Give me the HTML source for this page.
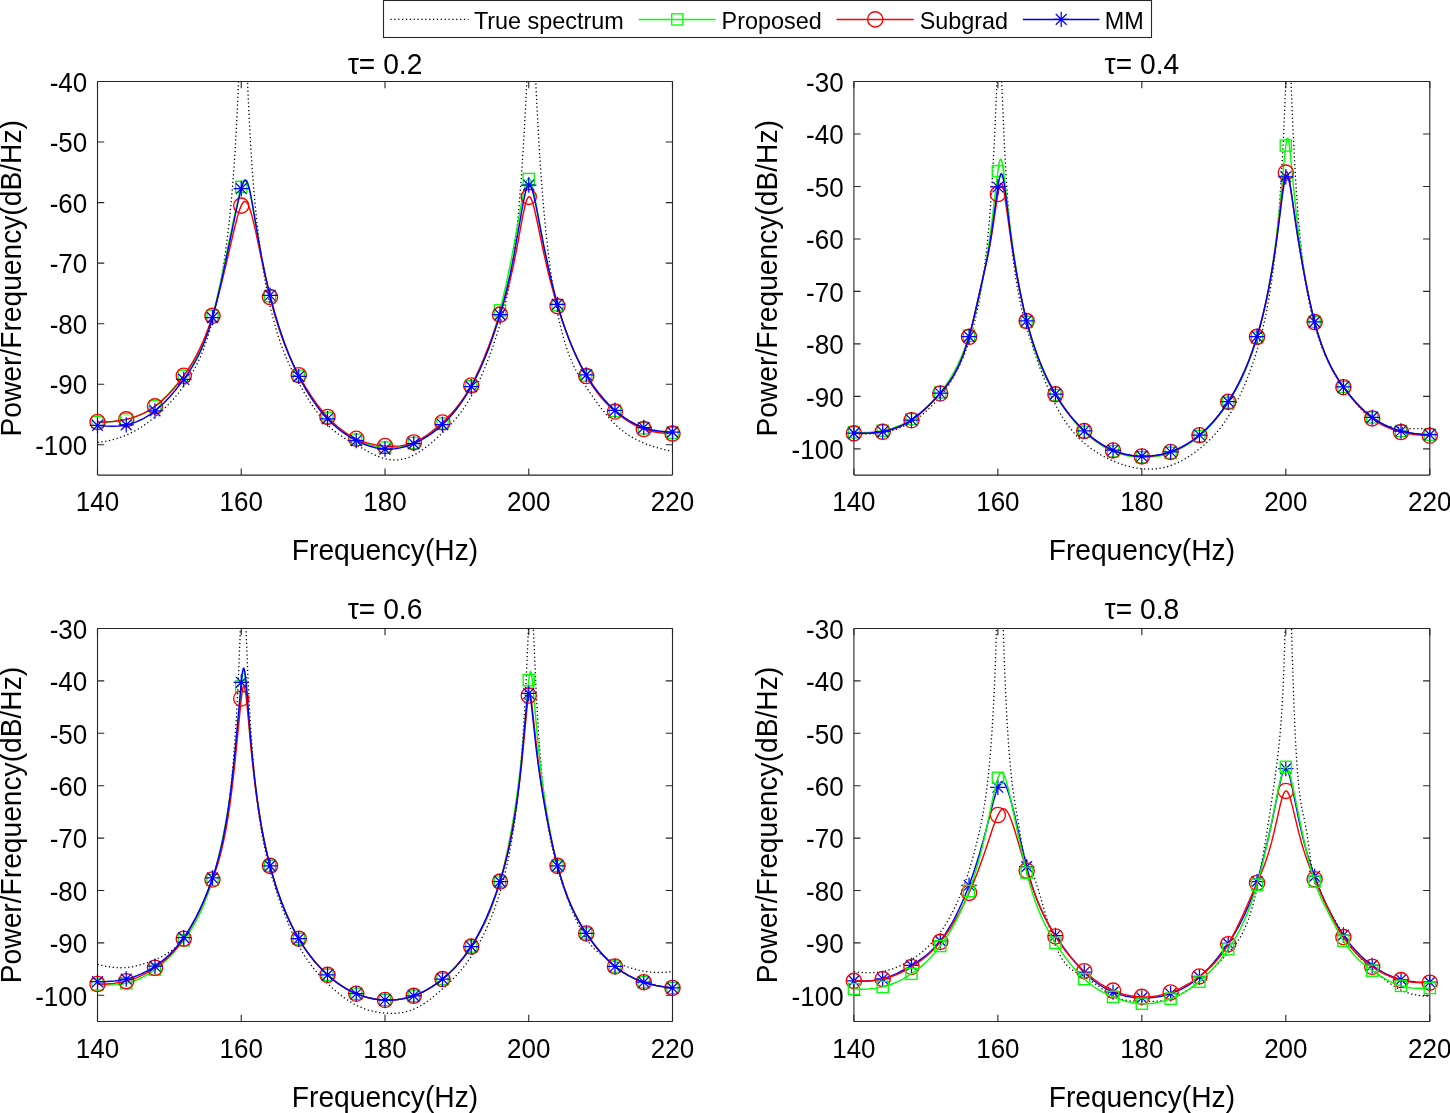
<!DOCTYPE html>
<html><head><meta charset="utf-8"><style>
html,body{margin:0;padding:0;background:#fff;}
svg{display:block;}
text{font-family:'Liberation Sans',sans-serif;fill:#000;}
svg{will-change:transform;}
</style></head><body>
<svg width="1450" height="1113" viewBox="0 0 1450 1113">
<rect width="1450" height="1113" fill="#fff"/>
<clipPath id="clip1"><rect x="97.5" y="81.5" width="575.00" height="393.60"/></clipPath>
<rect x="97.5" y="81.5" width="575.00" height="393.60" fill="#fff" stroke="none"/>
<path d="M97.5,475.1 H672.5 M97.5,81.5 H672.5 M97.5,81.5 V475.1 M672.5,81.5 V475.1" stroke="#262626" stroke-width="1.1" fill="none"/>
<path d="M97.50,475.1 v-6.7 M97.50,81.5 v6.7 M241.25,475.1 v-6.7 M241.25,81.5 v6.7 M385.00,475.1 v-6.7 M385.00,81.5 v6.7 M528.75,475.1 v-6.7 M528.75,81.5 v6.7 M672.50,475.1 v-6.7 M672.50,81.5 v6.7 M97.5,444.82 h6.7 M672.5,444.82 h-6.7 M97.5,384.27 h6.7 M672.5,384.27 h-6.7 M97.5,323.72 h6.7 M672.5,323.72 h-6.7 M97.5,263.16 h6.7 M672.5,263.16 h-6.7 M97.5,202.61 h6.7 M672.5,202.61 h-6.7 M97.5,142.05 h6.7 M672.5,142.05 h-6.7 M97.5,81.50 h6.7 M672.5,81.50 h-6.7" stroke="#262626" stroke-width="1.1" fill="none"/>
<path d="M97.50,442.40 101.81,441.86 106.12,441.16 110.44,440.27 114.75,439.18 119.06,437.86 122.66,436.59 126.25,435.13 129.84,433.49 133.44,431.67 137.75,429.24 141.34,427.02 145.66,424.12 149.97,420.97 153.56,418.15 157.88,414.52 161.47,411.28 168.66,404.20 172.25,400.33 175.84,396.20 182.31,388.04 185.91,383.04 188.78,378.71 191.66,374.04 193.81,370.25 198.12,361.81 200.28,357.07 202.44,351.92 206.03,342.28 209.62,331.06 212.50,320.69 215.77,307.09 218.86,292.25 221.70,276.62 224.32,260.09 226.73,242.71 228.96,224.18 230.76,206.88 232.41,188.34 233.88,169.02 235.28,147.56 236.54,125.21 237.76,100.29 240.53,33.06 245.56,33.06 247.50,81.50 249.01,114.63 250.67,145.16 252.43,172.04 254.40,196.75 256.63,219.58 259.25,241.88 262.20,263.01 264.97,280.01 267.92,295.72 271.01,309.95 274.31,323.03 277.91,335.24 280.06,341.75 282.22,347.76 286.53,358.51 291.56,369.42 295.87,377.80 300.19,385.61 305.22,394.22 310.25,402.28 314.56,408.72 318.88,414.67 323.19,420.07 327.50,424.84 331.09,428.30 334.69,431.34 338.28,434.04 342.59,436.93 348.34,440.38 366.31,450.57 371.34,453.28 375.66,455.37 379.97,457.16 383.56,458.36 387.16,459.23 390.75,459.76 394.34,459.94 397.94,459.79 401.53,459.30 405.84,458.26 409.44,457.03 413.03,455.47 416.62,453.57 420.94,450.89 425.25,447.82 429.56,444.42 433.88,440.74 438.91,436.15 445.38,429.88 450.41,424.69 455.44,419.05 459.75,413.73 464.06,407.84 468.37,401.24 471.97,395.10 475.56,388.31 479.87,379.33 484.19,369.45 488.50,358.65 492.09,348.89 495.69,338.31 499.28,326.77 502.41,315.70 505.10,304.96 507.22,295.37 509.20,285.25 511.07,274.39 512.79,263.00 514.45,250.63 515.99,237.54 517.47,223.46 518.90,208.04 521.56,174.43 523.97,136.91 525.98,98.93 529.04,33.06 533.49,33.06 536.91,106.22 539.46,151.87 540.93,173.90 542.48,194.23 544.17,213.79 545.96,232.16 548.05,250.95 550.28,268.62 552.65,285.12 555.13,300.21 557.68,313.70 560.38,325.96 563.25,337.13 566.12,346.65 569.72,356.69 573.31,365.07 575.47,369.47 577.63,373.51 581.94,380.74 585.53,386.23 591.28,394.62 596.31,401.68 600.62,407.48 604.94,412.98 608.53,417.28 612.12,421.28 615.00,424.23 617.88,426.94 620.75,429.41 626.50,433.74 629.38,435.63 632.97,437.77 639.44,441.10 647.34,444.45 651.66,446.01 655.97,447.40 663.88,449.51 668.19,450.43 672.50,451.18" fill="none" stroke="#000" stroke-width="1.3" stroke-dasharray="1.25 2.62" clip-path="url(#clip1)"/>
<path d="M97.50,422.05 105.41,421.94 113.31,421.41 120.50,420.48 126.97,419.23 133.44,417.49 139.19,415.44 144.94,412.79 149.97,409.89 155.00,406.37 160.03,402.18 165.06,397.39 170.81,391.29 178.00,382.94 185.19,373.95 190.22,367.15 194.53,360.54 197.41,355.53 199.56,351.36 201.72,346.79 203.88,341.76 206.03,336.21 208.19,330.09 211.78,318.42 215.41,304.59 219.44,287.23 223.17,269.84 232.37,225.59 236.65,205.81 239.13,194.94 241.00,187.73 242.54,183.00 243.23,181.45 243.91,180.32 244.56,179.68 245.17,179.49 245.67,179.66 246.21,180.16 247.29,182.16 248.40,185.49 249.59,190.26 252.18,203.67 259.51,246.91 263.89,269.59 266.77,282.75 269.82,295.45 272.88,307.04 276.47,319.44 280.06,330.70 284.38,342.92 288.69,353.92 293.00,363.89 297.31,372.95 302.34,382.53 307.37,391.15 312.41,398.92 318.16,406.87 321.03,410.50 324.62,414.73 330.38,420.83 333.25,423.59 336.84,426.78 339.72,429.14 343.31,431.86 349.78,436.14 353.38,438.19 356.97,440.03 360.56,441.65 364.16,443.08 367.75,444.30 371.34,445.33 374.94,446.17 379.25,446.94 382.84,447.37 387.16,447.66 390.75,447.69 394.34,447.53 397.94,447.18 401.53,446.61 405.13,445.83 408.00,445.04 411.59,443.84 414.47,442.71 418.06,441.06 421.66,439.17 425.97,436.58 430.28,433.64 435.31,429.79 439.62,426.12 443.94,422.10 448.25,417.72 452.56,412.94 456.88,407.69 460.47,402.93 464.06,397.77 467.66,392.17 471.25,386.09 474.84,379.46 477.72,373.73 481.31,365.95 484.19,359.18 487.06,351.87 489.22,345.99 493.53,333.10 497.84,318.46 501.62,303.98 506.18,284.24 510.85,261.63 515.09,239.14 521.67,201.94 523.79,191.14 525.16,185.40 526.41,181.40 526.99,180.09 527.56,179.14 528.14,178.56 528.71,178.38 529.22,178.55 529.76,179.07 530.83,181.09 531.95,184.45 533.17,189.34 535.61,201.64 542.62,241.06 546.43,260.40 548.95,271.97 551.53,282.96 554.23,293.51 557.03,303.64 560.38,314.72 563.25,323.49 566.12,331.65 569.72,341.08 573.31,349.73 576.91,357.68 580.50,365.00 584.81,373.00 589.12,380.21 593.44,386.71 598.47,393.49 603.50,399.51 608.53,404.87 613.56,409.64 619.31,414.48 625.06,418.70 630.09,421.90 635.84,425.00 640.88,427.24 646.62,429.26 652.37,430.74 658.84,431.87 665.31,432.53 672.50,432.86" fill="none" stroke="#00ff00" stroke-width="1.45" stroke-linejoin="round" clip-path="url(#clip1)"/>
<rect x="91.90" y="416.45" width="11.2" height="11.2" fill="none" stroke="#00ff00" stroke-width="1.35"/>
<rect x="120.65" y="413.79" width="11.2" height="11.2" fill="none" stroke="#00ff00" stroke-width="1.35"/>
<rect x="149.40" y="400.77" width="11.2" height="11.2" fill="none" stroke="#00ff00" stroke-width="1.35"/>
<rect x="178.15" y="370.19" width="11.2" height="11.2" fill="none" stroke="#00ff00" stroke-width="1.35"/>
<rect x="206.90" y="310.24" width="11.2" height="11.2" fill="none" stroke="#00ff00" stroke-width="1.35"/>
<rect x="235.65" y="181.26" width="11.2" height="11.2" fill="none" stroke="#00ff00" stroke-width="1.35"/>
<rect x="264.40" y="290.56" width="11.2" height="11.2" fill="none" stroke="#00ff00" stroke-width="1.35"/>
<rect x="293.15" y="370.19" width="11.2" height="11.2" fill="none" stroke="#00ff00" stroke-width="1.35"/>
<rect x="321.90" y="412.28" width="11.2" height="11.2" fill="none" stroke="#00ff00" stroke-width="1.35"/>
<rect x="350.65" y="434.08" width="11.2" height="11.2" fill="none" stroke="#00ff00" stroke-width="1.35"/>
<rect x="379.40" y="441.95" width="11.2" height="11.2" fill="none" stroke="#00ff00" stroke-width="1.35"/>
<rect x="408.15" y="437.41" width="11.2" height="11.2" fill="none" stroke="#00ff00" stroke-width="1.35"/>
<rect x="436.90" y="417.88" width="11.2" height="11.2" fill="none" stroke="#00ff00" stroke-width="1.35"/>
<rect x="465.65" y="380.49" width="11.2" height="11.2" fill="none" stroke="#00ff00" stroke-width="1.35"/>
<rect x="494.40" y="304.79" width="11.2" height="11.2" fill="none" stroke="#00ff00" stroke-width="1.35"/>
<rect x="523.15" y="173.39" width="11.2" height="11.2" fill="none" stroke="#00ff00" stroke-width="1.35"/>
<rect x="551.90" y="299.65" width="11.2" height="11.2" fill="none" stroke="#00ff00" stroke-width="1.35"/>
<rect x="580.65" y="369.89" width="11.2" height="11.2" fill="none" stroke="#00ff00" stroke-width="1.35"/>
<rect x="609.40" y="405.31" width="11.2" height="11.2" fill="none" stroke="#00ff00" stroke-width="1.35"/>
<rect x="638.15" y="422.72" width="11.2" height="11.2" fill="none" stroke="#00ff00" stroke-width="1.35"/>
<rect x="666.90" y="427.26" width="11.2" height="11.2" fill="none" stroke="#00ff00" stroke-width="1.35"/>
<path d="M97.50,422.05 105.41,421.98 112.59,421.53 119.06,420.75 125.53,419.55 131.28,418.08 137.03,416.15 142.78,413.70 147.81,411.06 152.84,407.90 157.88,404.17 162.91,399.84 167.94,394.94 172.97,389.46 178.00,383.42 183.03,376.79 187.34,370.61 190.94,365.00 193.81,360.14 196.69,354.88 199.56,349.16 202.44,342.91 205.31,336.07 208.19,328.55 210.34,322.43 212.50,315.84 215.38,306.32 220.26,288.32 225.08,268.69 233.92,230.48 237.62,216.15 239.70,209.52 241.61,204.89 242.51,203.30 243.37,202.20 244.20,201.58 245.02,201.40 245.81,201.64 246.60,202.30 247.43,203.42 248.26,204.94 249.98,209.32 251.89,215.69 253.54,222.18 255.45,230.44 264.75,274.33 269.78,296.20 272.73,307.65 275.75,318.33 278.62,327.61 281.50,336.10 285.09,345.75 288.69,354.47 292.28,362.41 296.59,371.11 300.91,379.11 305.94,387.73 310.97,395.64 316.00,402.87 321.03,409.45 326.78,416.19 332.53,422.09 338.28,427.22 344.03,431.62 346.91,433.57 350.50,435.76 356.25,438.77 359.13,440.04 362.72,441.44 366.31,442.62 369.91,443.62 377.09,445.10 381.41,445.69 385.72,446.09 390.03,446.30 393.62,446.31 400.09,445.87 403.69,445.32 406.56,444.71 410.16,443.70 413.03,442.69 415.91,441.47 418.78,440.06 423.09,437.61 427.41,434.77 431.72,431.61 436.03,428.13 441.06,423.74 446.09,419.00 450.41,414.61 454.00,410.64 457.59,406.32 460.47,402.56 464.06,397.44 466.94,392.95 469.81,388.08 472.69,382.77 475.56,377.04 478.44,370.92 481.31,364.43 484.91,355.85 488.50,346.78 492.09,337.25 499.28,316.79 502.66,306.43 505.46,297.20 509.63,281.78 513.44,265.26 516.67,249.09 522.50,217.40 524.62,207.29 525.88,202.52 527.02,199.28 528.14,197.36 528.68,196.89 529.22,196.74 529.76,196.90 530.30,197.37 531.37,199.16 532.52,202.18 533.78,206.54 536.26,217.24 543.63,252.49 547.90,271.07 550.67,282.06 553.55,292.69 556.53,302.97 559.66,313.00 562.53,321.63 566.12,331.71 569.72,341.07 573.31,349.78 576.91,357.86 580.50,365.35 584.81,373.55 588.41,379.74 592.72,386.43 597.03,392.41 601.34,397.77 606.38,403.35 611.41,408.30 617.16,413.33 622.19,417.26 627.94,421.20 632.97,424.19 638.00,426.73 643.03,428.82 648.06,430.46 653.81,431.83 659.56,432.75 666.03,433.36 672.50,433.62" fill="none" stroke="#ff0000" stroke-width="1.45" stroke-linejoin="round" clip-path="url(#clip1)"/>
<circle cx="97.50" cy="422.05" r="7.6" fill="none" stroke="#ff0000" stroke-width="1.35"/>
<circle cx="126.25" cy="419.39" r="7.6" fill="none" stroke="#ff0000" stroke-width="1.35"/>
<circle cx="155.00" cy="406.37" r="7.6" fill="none" stroke="#ff0000" stroke-width="1.35"/>
<circle cx="183.75" cy="375.79" r="7.6" fill="none" stroke="#ff0000" stroke-width="1.35"/>
<circle cx="212.50" cy="315.84" r="7.6" fill="none" stroke="#ff0000" stroke-width="1.35"/>
<circle cx="241.25" cy="205.64" r="7.6" fill="none" stroke="#ff0000" stroke-width="1.35"/>
<circle cx="270.00" cy="297.07" r="7.6" fill="none" stroke="#ff0000" stroke-width="1.35"/>
<circle cx="298.75" cy="375.19" r="7.6" fill="none" stroke="#ff0000" stroke-width="1.35"/>
<circle cx="327.50" cy="416.97" r="7.6" fill="none" stroke="#ff0000" stroke-width="1.35"/>
<circle cx="356.25" cy="438.77" r="7.6" fill="none" stroke="#ff0000" stroke-width="1.35"/>
<circle cx="385.00" cy="446.03" r="7.6" fill="none" stroke="#ff0000" stroke-width="1.35"/>
<circle cx="413.75" cy="442.40" r="7.6" fill="none" stroke="#ff0000" stroke-width="1.35"/>
<circle cx="442.50" cy="422.42" r="7.6" fill="none" stroke="#ff0000" stroke-width="1.35"/>
<circle cx="471.25" cy="385.48" r="7.6" fill="none" stroke="#ff0000" stroke-width="1.35"/>
<circle cx="500.00" cy="314.63" r="7.6" fill="none" stroke="#ff0000" stroke-width="1.35"/>
<circle cx="528.75" cy="196.86" r="7.6" fill="none" stroke="#ff0000" stroke-width="1.35"/>
<circle cx="557.50" cy="306.15" r="7.6" fill="none" stroke="#ff0000" stroke-width="1.35"/>
<circle cx="586.25" cy="376.09" r="7.6" fill="none" stroke="#ff0000" stroke-width="1.35"/>
<circle cx="615.00" cy="411.52" r="7.6" fill="none" stroke="#ff0000" stroke-width="1.35"/>
<circle cx="643.75" cy="429.08" r="7.6" fill="none" stroke="#ff0000" stroke-width="1.35"/>
<circle cx="672.50" cy="433.62" r="7.6" fill="none" stroke="#ff0000" stroke-width="1.35"/>
<path d="M97.50,425.45 105.41,426.12 112.59,426.27 119.06,425.92 124.81,425.12 130.56,423.78 136.31,421.84 142.06,419.27 147.09,416.46 152.84,412.57 157.88,408.53 163.62,403.20 169.38,397.17 175.13,390.51 181.59,382.32 187.34,374.40 192.37,366.67 195.25,361.72 198.12,356.26 201.00,350.20 203.16,345.19 206.03,337.80 208.19,331.67 210.34,324.98 212.50,317.66 216.70,301.56 221.38,281.38 225.73,261.11 236.22,210.46 239.70,194.69 241.43,188.05 242.87,183.72 243.51,182.27 244.16,181.21 244.81,180.56 245.42,180.36 245.99,180.55 246.57,181.12 247.14,182.06 247.72,183.36 248.94,187.21 250.23,192.65 252.39,203.90 258.28,238.74 261.73,257.64 265.72,277.05 269.96,295.11 274.31,311.44 279.34,328.10 284.38,342.78 289.41,355.80 292.28,362.60 295.87,370.51 298.75,376.40 302.34,383.25 305.94,389.59 309.53,395.46 313.12,400.89 317.44,406.87 321.03,411.44 325.34,416.45 328.94,420.27 333.25,424.45 337.56,428.22 341.88,431.61 346.19,434.66 351.22,437.82 354.81,439.83 358.41,441.66 362.00,443.30 365.59,444.75 369.19,446.01 372.78,447.07 376.38,447.92 379.97,448.55 383.56,448.96 386.44,449.12 390.03,449.12 393.62,448.88 396.50,448.53 400.09,447.90 403.69,447.06 407.28,446.01 410.87,444.76 414.47,443.31 418.06,441.65 421.66,439.79 425.25,437.72 428.84,435.43 432.44,432.91 436.03,430.15 442.50,424.54 446.09,421.04 448.97,418.04 452.56,413.99 455.44,410.51 461.19,402.82 466.22,395.22 470.53,387.97 475.56,378.55 479.87,369.60 484.91,358.05 489.22,347.11 493.53,335.08 497.12,324.12 500.72,312.15 504.06,299.96 507.15,287.53 510.10,274.45 514.52,252.22 522.14,208.51 524.76,195.27 525.95,190.65 527.02,187.51 528.10,185.58 528.64,185.10 529.15,184.96 529.68,185.12 530.22,185.60 530.80,186.46 531.37,187.66 532.56,191.05 533.89,196.07 536.37,207.61 543.99,246.59 548.62,268.38 551.46,280.75 554.23,292.04 556.96,302.39 559.66,311.81 562.53,321.05 565.41,329.54 568.28,337.36 571.16,344.58 574.03,351.27 577.63,358.96 581.22,365.99 584.81,372.45 589.12,379.53 594.16,386.97 598.47,392.73 603.50,398.79 608.53,404.20 614.28,409.67 619.31,413.89 625.06,418.09 630.09,421.25 635.84,424.31 640.88,426.50 646.62,428.49 652.37,429.95 658.84,431.08 665.31,431.76 672.50,432.11" fill="none" stroke="#0000ff" stroke-width="1.45" stroke-linejoin="round" clip-path="url(#clip1)"/>
<path d="M89.80,425.45h15.4 M97.50,417.75v15.4 M92.10,420.05l10.8,10.8 M92.10,430.85l10.8,-10.8" stroke="#0000ff" stroke-width="1.25" fill="none"/>
<path d="M118.55,424.84h15.4 M126.25,417.14v15.4 M120.85,419.44l10.8,10.8 M120.85,430.24l10.8,-10.8" stroke="#0000ff" stroke-width="1.25" fill="none"/>
<path d="M147.30,410.91h15.4 M155.00,403.21v15.4 M149.60,405.51l10.8,10.8 M149.60,416.31l10.8,-10.8" stroke="#0000ff" stroke-width="1.25" fill="none"/>
<path d="M176.05,379.42h15.4 M183.75,371.72v15.4 M178.35,374.02l10.8,10.8 M178.35,384.82l10.8,-10.8" stroke="#0000ff" stroke-width="1.25" fill="none"/>
<path d="M204.80,317.66h15.4 M212.50,309.96v15.4 M207.10,312.26l10.8,10.8 M207.10,323.06l10.8,-10.8" stroke="#0000ff" stroke-width="1.25" fill="none"/>
<path d="M233.55,188.68h15.4 M241.25,180.98v15.4 M235.85,183.28l10.8,10.8 M235.85,194.08l10.8,-10.8" stroke="#0000ff" stroke-width="1.25" fill="none"/>
<path d="M262.30,295.26h15.4 M270.00,287.56v15.4 M264.60,289.86l10.8,10.8 M264.60,300.66l10.8,-10.8" stroke="#0000ff" stroke-width="1.25" fill="none"/>
<path d="M291.05,376.40h15.4 M298.75,368.70v15.4 M293.35,371.00l10.8,10.8 M293.35,381.80l10.8,-10.8" stroke="#0000ff" stroke-width="1.25" fill="none"/>
<path d="M319.80,418.78h15.4 M327.50,411.08v15.4 M322.10,413.38l10.8,10.8 M322.10,424.18l10.8,-10.8" stroke="#0000ff" stroke-width="1.25" fill="none"/>
<path d="M348.55,440.58h15.4 M356.25,432.88v15.4 M350.85,435.18l10.8,10.8 M350.85,445.98l10.8,-10.8" stroke="#0000ff" stroke-width="1.25" fill="none"/>
<path d="M377.30,449.06h15.4 M385.00,441.36v15.4 M379.60,443.66l10.8,10.8 M379.60,454.46l10.8,-10.8" stroke="#0000ff" stroke-width="1.25" fill="none"/>
<path d="M406.05,443.61h15.4 M413.75,435.91v15.4 M408.35,438.21l10.8,10.8 M408.35,449.01l10.8,-10.8" stroke="#0000ff" stroke-width="1.25" fill="none"/>
<path d="M434.80,424.54h15.4 M442.50,416.84v15.4 M437.10,419.14l10.8,10.8 M437.10,429.94l10.8,-10.8" stroke="#0000ff" stroke-width="1.25" fill="none"/>
<path d="M463.55,386.69h15.4 M471.25,378.99v15.4 M465.85,381.29l10.8,10.8 M465.85,392.09l10.8,-10.8" stroke="#0000ff" stroke-width="1.25" fill="none"/>
<path d="M492.30,314.63h15.4 M500.00,306.93v15.4 M494.60,309.23l10.8,10.8 M494.60,320.03l10.8,-10.8" stroke="#0000ff" stroke-width="1.25" fill="none"/>
<path d="M521.05,185.05h15.4 M528.75,177.35v15.4 M523.35,179.65l10.8,10.8 M523.35,190.45l10.8,-10.8" stroke="#0000ff" stroke-width="1.25" fill="none"/>
<path d="M549.80,304.34h15.4 M557.50,296.64v15.4 M552.10,298.94l10.8,10.8 M552.10,309.74l10.8,-10.8" stroke="#0000ff" stroke-width="1.25" fill="none"/>
<path d="M578.55,374.88h15.4 M586.25,367.18v15.4 M580.85,369.48l10.8,10.8 M580.85,380.28l10.8,-10.8" stroke="#0000ff" stroke-width="1.25" fill="none"/>
<path d="M607.30,410.31h15.4 M615.00,402.61v15.4 M609.60,404.91l10.8,10.8 M609.60,415.71l10.8,-10.8" stroke="#0000ff" stroke-width="1.25" fill="none"/>
<path d="M636.05,427.57h15.4 M643.75,419.87v15.4 M638.35,422.17l10.8,10.8 M638.35,432.97l10.8,-10.8" stroke="#0000ff" stroke-width="1.25" fill="none"/>
<path d="M664.80,432.11h15.4 M672.50,424.41v15.4 M667.10,426.71l10.8,10.8 M667.10,437.51l10.8,-10.8" stroke="#0000ff" stroke-width="1.25" fill="none"/>
<text transform="translate(97.50,511.40) scale(1,1.04)" text-anchor="middle" font-size="26" fill="#262626">140</text>
<text transform="translate(241.25,511.40) scale(1,1.04)" text-anchor="middle" font-size="26" fill="#262626">160</text>
<text transform="translate(385.00,511.40) scale(1,1.04)" text-anchor="middle" font-size="26" fill="#262626">180</text>
<text transform="translate(528.75,511.40) scale(1,1.04)" text-anchor="middle" font-size="26" fill="#262626">200</text>
<text transform="translate(672.50,511.40) scale(1,1.04)" text-anchor="middle" font-size="26" fill="#262626">220</text>
<text transform="translate(87.20,455.02) scale(1,1.04)" text-anchor="end" font-size="26" fill="#262626">-100</text>
<text transform="translate(87.20,394.47) scale(1,1.04)" text-anchor="end" font-size="26" fill="#262626">-90</text>
<text transform="translate(87.20,333.92) scale(1,1.04)" text-anchor="end" font-size="26" fill="#262626">-80</text>
<text transform="translate(87.20,273.36) scale(1,1.04)" text-anchor="end" font-size="26" fill="#262626">-70</text>
<text transform="translate(87.20,212.81) scale(1,1.04)" text-anchor="end" font-size="26" fill="#262626">-60</text>
<text transform="translate(87.20,152.25) scale(1,1.04)" text-anchor="end" font-size="26" fill="#262626">-50</text>
<text transform="translate(87.20,91.70) scale(1,1.04)" text-anchor="end" font-size="26" fill="#262626">-40</text>
<text transform="translate(385.00,74.10) scale(1,1.04)" text-anchor="middle" font-size="28.2">τ= 0.2</text>
<text transform="translate(385.00,560.10) scale(1,1.04)" text-anchor="middle" font-size="28.2" fill="#262626">Frequency(Hz)</text>
<text transform="translate(21.00,278.30) rotate(-90) scale(1,1.04)" text-anchor="middle" font-size="28.2" fill="#262626">Power/Frequency(dB/Hz)</text>
<clipPath id="clip2"><rect x="853.9" y="81.5" width="575.90" height="393.60"/></clipPath>
<rect x="853.9" y="81.5" width="575.90" height="393.60" fill="#fff" stroke="none"/>
<path d="M853.9,475.1 H1429.8 M853.9,81.5 H1429.8 M853.9,81.5 V475.1 M1429.8,81.5 V475.1" stroke="#262626" stroke-width="1.1" fill="none"/>
<path d="M853.90,475.1 v-6.7 M853.90,81.5 v6.7 M997.88,475.1 v-6.7 M997.88,81.5 v6.7 M1141.85,475.1 v-6.7 M1141.85,81.5 v6.7 M1285.82,475.1 v-6.7 M1285.82,81.5 v6.7 M1429.80,475.1 v-6.7 M1429.80,81.5 v6.7 M853.9,448.86 h6.7 M1429.8,448.86 h-6.7 M853.9,396.38 h6.7 M1429.8,396.38 h-6.7 M853.9,343.90 h6.7 M1429.8,343.90 h-6.7 M853.9,291.42 h6.7 M1429.8,291.42 h-6.7 M853.9,238.94 h6.7 M1429.8,238.94 h-6.7 M853.9,186.46 h6.7 M1429.8,186.46 h-6.7 M853.9,133.98 h6.7 M1429.8,133.98 h-6.7 M853.9,81.50 h6.7 M1429.8,81.50 h-6.7" stroke="#262626" stroke-width="1.1" fill="none"/>
<path d="M853.90,433.12 858.94,433.55 863.26,433.77 868.30,433.82 872.62,433.68 876.94,433.35 881.26,432.82 885.57,432.07 889.17,431.26 893.49,430.07 897.09,428.89 901.41,427.21 905.01,425.58 908.61,423.74 912.21,421.66 915.81,419.34 919.41,416.76 923.01,413.93 926.61,410.83 930.21,407.46 933.81,403.80 937.41,399.82 940.28,396.38 943.88,391.74 946.76,387.72 949.64,383.38 952.52,378.68 955.40,373.58 957.56,369.44 961.88,360.24 964.04,355.09 966.20,349.51 969.80,339.06 972.72,329.27 975.52,318.34 978.08,306.72 980.49,293.88 982.69,280.19 984.74,265.21 986.61,249.22 988.16,233.91 989.63,217.10 991.00,199.15 992.26,180.11 993.48,158.82 994.64,135.79 997.98,57.81 998.70,46.68 999.03,44.11 999.31,43.36 999.60,44.11 999.93,46.67 1000.57,56.42 1004.46,145.66 1005.97,173.80 1007.59,198.98 1009.43,222.64 1011.41,243.67 1013.57,262.48 1015.94,279.32 1018.68,295.00 1021.77,309.34 1025.37,323.13 1030.27,339.43 1036.75,358.85 1040.35,368.85 1043.95,378.34 1047.55,387.29 1050.43,394.03 1053.31,400.34 1056.18,406.19 1059.06,411.55 1062.66,417.61 1066.26,423.04 1069.86,427.92 1073.46,432.30 1077.78,437.00 1082.10,441.17 1086.42,444.90 1090.74,448.26 1095.78,451.75 1100.82,454.83 1106.58,457.92 1112.34,460.62 1118.81,463.23 1124.57,465.19 1130.33,466.79 1135.37,467.87 1140.41,468.64 1145.45,469.08 1149.77,469.19 1154.81,468.97 1159.13,468.48 1164.17,467.52 1168.49,466.36 1172.80,464.86 1177.12,463.03 1181.44,460.88 1186.48,458.00 1191.52,454.73 1196.56,451.10 1201.60,447.11 1205.92,443.38 1210.96,438.58 1216.00,433.19 1220.32,428.01 1224.64,422.22 1228.95,415.71 1232.55,409.67 1236.87,401.65 1240.47,394.29 1244.79,384.57 1248.39,375.62 1251.99,365.80 1254.87,357.18 1257.75,347.76 1260.88,336.37 1263.51,325.58 1265.92,314.40 1267.90,304.07 1269.77,293.14 1271.54,281.58 1273.19,269.39 1274.74,256.58 1276.18,243.16 1278.81,213.89 1280.86,185.19 1282.73,152.66 1284.39,117.27 1286.90,54.94 1287.41,44.90 1287.80,39.52 1289.03,39.52 1289.32,43.12 1290.14,59.88 1292.99,129.65 1295.08,170.65 1296.44,192.59 1297.92,212.86 1299.50,231.50 1301.19,248.55 1302.96,263.76 1304.87,277.83 1306.92,290.74 1309.15,302.70 1311.56,313.71 1314.22,324.11 1317.50,335.05 1320.38,343.38 1322.54,348.97 1324.70,354.11 1329.02,363.25 1334.06,372.45 1336.94,377.20 1340.54,382.74 1344.13,387.96 1348.45,393.90 1352.77,399.50 1356.37,403.86 1359.97,407.93 1363.57,411.65 1367.17,415.00 1370.05,417.37 1372.21,418.95 1375.09,420.78 1377.25,421.97 1380.13,423.32 1383.01,424.44 1385.89,425.35 1391.65,426.67 1399.57,427.73 1411.08,428.57 1420.44,428.75 1429.80,428.39" fill="none" stroke="#000" stroke-width="1.3" stroke-dasharray="1.25 2.62" clip-path="url(#clip2)"/>
<path d="M853.90,432.33 862.54,432.54 870.46,432.29 877.66,431.58 884.85,430.31 891.33,428.60 897.81,426.30 904.29,423.34 910.05,420.11 913.65,417.78 916.53,415.73 922.29,411.15 928.77,405.20 934.53,399.19 940.28,392.44 946.04,384.82 950.36,378.29 954.68,370.83 958.28,363.72 961.88,355.64 965.48,346.39 968.36,338.01 971.24,328.63 974.08,318.32 976.89,307.10 979.63,295.10 981.89,284.24 984.09,272.85 986.14,261.27 988.05,249.53 990.10,235.60 992.08,220.67 996.94,178.78 998.13,169.40 998.85,164.76 999.49,161.62 1000.11,159.78 1000.43,159.30 1000.72,159.17 1001.01,159.33 1001.33,159.84 1001.94,161.73 1002.59,164.91 1003.31,169.57 1010.11,227.17 1012.63,245.76 1015.37,263.78 1018.14,280.26 1021.02,295.75 1023.97,310.08 1026.96,323.04 1030.27,335.66 1033.87,347.60 1037.47,358.01 1041.07,367.14 1045.39,376.75 1049.71,385.19 1054.75,393.94 1060.50,402.97 1064.10,408.17 1067.70,413.07 1071.30,417.67 1074.90,421.97 1078.50,426.00 1082.10,429.74 1085.70,433.21 1089.30,436.40 1092.90,439.33 1096.50,442.00 1100.10,444.43 1104.42,447.04 1108.02,448.96 1112.34,450.97 1115.93,452.41 1120.25,453.87 1124.57,455.05 1128.89,455.96 1133.21,456.62 1138.25,457.10 1143.29,457.28 1147.61,457.19 1152.65,456.82 1156.97,456.24 1161.29,455.43 1165.61,454.37 1169.93,453.04 1174.24,451.45 1178.56,449.56 1182.88,447.39 1187.20,444.90 1190.80,442.58 1195.84,438.95 1200.88,434.83 1205.92,430.19 1210.24,425.79 1215.28,420.13 1219.60,414.80 1223.92,409.00 1228.23,402.68 1232.55,395.78 1236.15,389.50 1239.75,382.63 1242.63,376.65 1246.23,368.45 1249.11,361.23 1251.99,353.34 1254.87,344.68 1257.03,337.60 1259.69,328.10 1261.96,319.24 1264.16,309.89 1266.24,300.20 1268.22,290.18 1271.90,268.99 1275.17,246.42 1278.23,221.37 1280.57,199.20 1284.35,159.07 1285.54,147.81 1286.62,140.63 1287.12,138.81 1287.37,138.34 1287.62,138.17 1287.88,138.31 1288.13,138.75 1288.67,140.67 1289.24,144.06 1289.86,148.85 1295.11,203.03 1296.88,219.16 1298.75,234.51 1300.47,247.30 1302.35,259.94 1304.33,272.18 1306.38,283.81 1308.90,296.83 1311.49,308.91 1314.12,319.89 1316.78,329.79 1319.66,339.22 1322.54,347.55 1325.42,354.92 1329.02,362.99 1333.34,371.34 1337.66,378.55 1342.70,385.94 1349.17,394.44 1354.93,401.23 1361.41,408.03 1365.01,411.43 1367.89,413.94 1373.65,418.42 1379.41,422.16 1385.17,425.25 1391.65,428.05 1398.13,430.22 1405.32,432.03 1412.52,433.31 1420.44,434.19 1429.80,434.69" fill="none" stroke="#00ff00" stroke-width="1.45" stroke-linejoin="round" clip-path="url(#clip2)"/>
<rect x="848.30" y="426.73" width="11.2" height="11.2" fill="none" stroke="#00ff00" stroke-width="1.35"/>
<rect x="877.09" y="425.15" width="11.2" height="11.2" fill="none" stroke="#00ff00" stroke-width="1.35"/>
<rect x="905.89" y="413.61" width="11.2" height="11.2" fill="none" stroke="#00ff00" stroke-width="1.35"/>
<rect x="934.68" y="386.84" width="11.2" height="11.2" fill="none" stroke="#00ff00" stroke-width="1.35"/>
<rect x="963.48" y="330.17" width="11.2" height="11.2" fill="none" stroke="#00ff00" stroke-width="1.35"/>
<rect x="992.27" y="165.64" width="11.2" height="11.2" fill="none" stroke="#00ff00" stroke-width="1.35"/>
<rect x="1021.07" y="316.26" width="11.2" height="11.2" fill="none" stroke="#00ff00" stroke-width="1.35"/>
<rect x="1049.87" y="389.52" width="11.2" height="11.2" fill="none" stroke="#00ff00" stroke-width="1.35"/>
<rect x="1078.66" y="426.26" width="11.2" height="11.2" fill="none" stroke="#00ff00" stroke-width="1.35"/>
<rect x="1107.45" y="445.67" width="11.2" height="11.2" fill="none" stroke="#00ff00" stroke-width="1.35"/>
<rect x="1136.25" y="451.66" width="11.2" height="11.2" fill="none" stroke="#00ff00" stroke-width="1.35"/>
<rect x="1165.05" y="447.20" width="11.2" height="11.2" fill="none" stroke="#00ff00" stroke-width="1.35"/>
<rect x="1193.84" y="430.45" width="11.2" height="11.2" fill="none" stroke="#00ff00" stroke-width="1.35"/>
<rect x="1222.63" y="397.08" width="11.2" height="11.2" fill="none" stroke="#00ff00" stroke-width="1.35"/>
<rect x="1251.43" y="332.00" width="11.2" height="11.2" fill="none" stroke="#00ff00" stroke-width="1.35"/>
<rect x="1280.22" y="139.93" width="11.2" height="11.2" fill="none" stroke="#00ff00" stroke-width="1.35"/>
<rect x="1309.02" y="316.26" width="11.2" height="11.2" fill="none" stroke="#00ff00" stroke-width="1.35"/>
<rect x="1337.82" y="381.33" width="11.2" height="11.2" fill="none" stroke="#00ff00" stroke-width="1.35"/>
<rect x="1366.61" y="411.77" width="11.2" height="11.2" fill="none" stroke="#00ff00" stroke-width="1.35"/>
<rect x="1395.40" y="425.42" width="11.2" height="11.2" fill="none" stroke="#00ff00" stroke-width="1.35"/>
<rect x="1424.20" y="429.09" width="11.2" height="11.2" fill="none" stroke="#00ff00" stroke-width="1.35"/>
<path d="M853.90,433.38 861.82,433.55 869.74,433.33 876.94,432.68 883.41,431.67 889.89,430.16 895.65,428.33 901.41,425.96 907.17,422.96 912.93,419.26 918.69,414.83 925.17,409.11 931.65,402.75 938.85,395.09 945.32,387.65 949.64,381.97 951.80,378.76 953.96,375.24 956.84,369.96 959.00,365.49 961.16,360.50 963.32,354.95 965.48,348.75 967.64,341.85 969.80,334.16 972.03,325.42 975.88,309.02 988.01,255.08 989.92,245.17 991.83,234.02 996.83,200.57 998.20,192.24 998.99,188.32 999.75,185.49 1000.47,183.83 1000.83,183.42 1001.15,183.31 1001.51,183.47 1001.91,183.98 1002.66,185.90 1003.45,189.08 1004.35,193.86 1005.79,203.20 1009.79,232.00 1012.16,248.08 1014.90,264.94 1017.74,280.73 1020.37,293.94 1023.11,306.46 1025.91,318.12 1028.83,329.07 1032.43,341.14 1036.03,351.88 1039.63,361.51 1043.95,371.83 1048.27,381.03 1053.31,390.57 1058.34,399.08 1064.10,407.74 1066.98,411.69 1070.58,416.31 1073.46,419.77 1077.06,423.81 1083.54,430.39 1087.14,433.68 1090.74,436.73 1094.34,439.54 1097.94,442.12 1101.54,444.47 1105.14,446.60 1108.74,448.50 1112.34,450.18 1115.93,451.63 1120.25,453.10 1123.85,454.10 1128.17,455.06 1132.49,455.76 1136.81,456.22 1141.13,456.45 1146.17,456.46 1150.49,456.23 1154.81,455.78 1159.13,455.09 1162.73,454.33 1167.05,453.18 1170.64,452.01 1174.96,450.35 1178.56,448.75 1182.88,446.55 1186.48,444.50 1191.52,441.25 1196.56,437.57 1201.60,433.44 1205.92,429.50 1210.24,425.16 1214.56,420.39 1218.88,415.14 1223.20,409.37 1227.52,403.01 1231.11,397.22 1234.71,390.93 1238.31,384.10 1241.91,376.67 1244.79,370.25 1248.39,361.54 1251.27,353.95 1254.15,345.74 1256.31,339.12 1258.69,331.31 1260.92,323.38 1264.95,307.22 1268.62,289.83 1271.93,271.27 1274.99,251.05 1277.37,233.10 1281.97,194.79 1283.63,182.47 1284.46,177.59 1285.21,174.27 1285.93,172.35 1286.26,171.92 1286.62,171.76 1286.94,171.89 1287.26,172.27 1287.91,173.78 1288.60,176.33 1289.35,180.10 1290.90,189.89 1296.08,226.52 1299.93,250.42 1302.89,267.00 1305.91,282.89 1308.86,297.35 1311.70,310.20 1313.90,319.31 1316.06,327.49 1318.22,334.92 1321.10,343.79 1323.98,351.62 1326.86,358.56 1329.74,364.75 1332.62,370.30 1336.94,377.65 1341.26,384.16 1347.01,392.03 1353.49,400.09 1359.25,406.54 1365.01,412.29 1370.77,417.30 1375.81,421.01 1381.57,424.54 1387.33,427.39 1393.09,429.68 1399.57,431.69 1406.76,433.35 1413.96,434.52 1421.88,435.33 1429.80,435.74" fill="none" stroke="#ff0000" stroke-width="1.45" stroke-linejoin="round" clip-path="url(#clip2)"/>
<circle cx="853.90" cy="433.38" r="7.6" fill="none" stroke="#ff0000" stroke-width="1.35"/>
<circle cx="882.69" cy="431.80" r="7.6" fill="none" stroke="#ff0000" stroke-width="1.35"/>
<circle cx="911.49" cy="420.26" r="7.6" fill="none" stroke="#ff0000" stroke-width="1.35"/>
<circle cx="940.28" cy="393.49" r="7.6" fill="none" stroke="#ff0000" stroke-width="1.35"/>
<circle cx="969.08" cy="336.82" r="7.6" fill="none" stroke="#ff0000" stroke-width="1.35"/>
<circle cx="997.88" cy="194.07" r="7.6" fill="none" stroke="#ff0000" stroke-width="1.35"/>
<circle cx="1026.67" cy="321.07" r="7.6" fill="none" stroke="#ff0000" stroke-width="1.35"/>
<circle cx="1055.46" cy="394.33" r="7.6" fill="none" stroke="#ff0000" stroke-width="1.35"/>
<circle cx="1084.26" cy="431.07" r="7.6" fill="none" stroke="#ff0000" stroke-width="1.35"/>
<circle cx="1113.05" cy="450.49" r="7.6" fill="none" stroke="#ff0000" stroke-width="1.35"/>
<circle cx="1141.85" cy="456.47" r="7.6" fill="none" stroke="#ff0000" stroke-width="1.35"/>
<circle cx="1170.64" cy="452.01" r="7.6" fill="none" stroke="#ff0000" stroke-width="1.35"/>
<circle cx="1199.44" cy="435.27" r="7.6" fill="none" stroke="#ff0000" stroke-width="1.35"/>
<circle cx="1228.23" cy="401.89" r="7.6" fill="none" stroke="#ff0000" stroke-width="1.35"/>
<circle cx="1257.03" cy="336.82" r="7.6" fill="none" stroke="#ff0000" stroke-width="1.35"/>
<circle cx="1285.82" cy="172.55" r="7.6" fill="none" stroke="#ff0000" stroke-width="1.35"/>
<circle cx="1314.62" cy="322.12" r="7.6" fill="none" stroke="#ff0000" stroke-width="1.35"/>
<circle cx="1343.41" cy="387.20" r="7.6" fill="none" stroke="#ff0000" stroke-width="1.35"/>
<circle cx="1372.21" cy="418.42" r="7.6" fill="none" stroke="#ff0000" stroke-width="1.35"/>
<circle cx="1401.00" cy="432.07" r="7.6" fill="none" stroke="#ff0000" stroke-width="1.35"/>
<circle cx="1429.80" cy="435.74" r="7.6" fill="none" stroke="#ff0000" stroke-width="1.35"/>
<path d="M853.90,433.12 862.54,433.29 870.46,433.03 877.66,432.34 884.13,431.26 890.61,429.68 896.37,427.78 902.13,425.33 907.89,422.27 913.65,418.50 916.53,416.34 920.13,413.41 926.61,407.56 933.09,401.08 940.28,393.23 946.04,386.37 950.36,380.45 952.52,377.11 954.68,373.44 957.56,367.95 960.44,361.66 963.32,354.44 965.48,348.31 967.64,341.50 969.80,333.95 972.21,324.64 974.95,313.26 985.57,266.00 988.05,253.94 989.99,242.90 991.94,230.40 997.05,192.75 998.41,183.56 999.21,179.23 999.93,176.24 1000.61,174.45 1000.97,173.97 1001.29,173.83 1001.62,173.96 1001.98,174.43 1002.66,176.24 1003.38,179.33 1004.14,183.64 1005.69,194.76 1010.18,230.96 1012.67,248.98 1016.02,270.23 1019.65,289.98 1023.61,308.38 1025.70,317.01 1027.86,325.27 1030.27,333.77 1032.43,340.82 1034.59,347.40 1037.47,355.52 1040.35,362.98 1043.95,371.50 1046.83,377.76 1050.43,384.96 1054.03,391.58 1057.62,397.67 1061.22,403.30 1065.54,409.50 1069.86,415.17 1074.18,420.35 1078.50,425.10 1082.82,429.44 1087.14,433.42 1092.18,437.62 1097.22,441.36 1102.26,444.65 1105.86,446.73 1109.46,448.59 1113.05,450.22 1117.37,451.90 1120.97,453.06 1125.29,454.19 1129.61,455.06 1133.93,455.68 1138.25,456.06 1143.29,456.23 1147.61,456.14 1151.93,455.84 1156.25,455.30 1160.57,454.53 1164.89,453.51 1168.49,452.47 1172.80,450.96 1176.40,449.48 1180.00,447.81 1183.60,445.93 1187.92,443.39 1191.52,441.03 1195.12,438.43 1198.72,435.60 1202.32,432.52 1205.92,429.17 1212.40,422.44 1216.00,418.29 1218.88,414.74 1222.48,409.99 1225.36,405.93 1230.39,398.22 1235.43,389.61 1240.47,379.90 1244.79,370.51 1249.11,359.93 1252.71,350.02 1256.31,338.93 1260.34,324.82 1263.22,313.47 1265.99,301.38 1268.58,288.85 1271.07,275.56 1273.73,259.66 1276.25,242.83 1278.45,226.58 1282.19,197.00 1283.63,186.86 1284.49,181.91 1285.32,178.31 1286.11,176.10 1286.47,175.56 1286.87,175.35 1287.23,175.49 1287.59,175.93 1288.31,177.64 1289.06,180.48 1289.93,184.73 1291.73,195.74 1297.74,236.40 1301.63,260.13 1304.11,273.93 1306.63,286.94 1309.18,299.15 1311.70,310.24 1314.22,320.36 1316.78,329.61 1318.94,336.69 1321.82,345.20 1324.70,352.78 1327.58,359.55 1330.46,365.62 1333.34,371.11 1337.66,378.42 1341.98,384.91 1347.73,392.69 1353.49,399.69 1359.25,405.94 1365.01,411.48 1370.77,416.28 1375.81,419.89 1381.57,423.37 1387.33,426.24 1393.09,428.57 1399.57,430.63 1406.76,432.33 1413.96,433.51 1421.88,434.31 1429.80,434.69" fill="none" stroke="#0000ff" stroke-width="1.45" stroke-linejoin="round" clip-path="url(#clip2)"/>
<path d="M846.20,433.12h15.4 M853.90,425.42v15.4 M848.50,427.72l10.8,10.8 M848.50,438.52l10.8,-10.8" stroke="#0000ff" stroke-width="1.25" fill="none"/>
<path d="M874.99,431.54h15.4 M882.69,423.84v15.4 M877.29,426.14l10.8,10.8 M877.29,436.94l10.8,-10.8" stroke="#0000ff" stroke-width="1.25" fill="none"/>
<path d="M903.79,420.00h15.4 M911.49,412.30v15.4 M906.09,414.60l10.8,10.8 M906.09,425.40l10.8,-10.8" stroke="#0000ff" stroke-width="1.25" fill="none"/>
<path d="M932.58,393.23h15.4 M940.28,385.53v15.4 M934.88,387.83l10.8,10.8 M934.88,398.63l10.8,-10.8" stroke="#0000ff" stroke-width="1.25" fill="none"/>
<path d="M961.38,336.55h15.4 M969.08,328.85v15.4 M963.68,331.15l10.8,10.8 M963.68,341.95l10.8,-10.8" stroke="#0000ff" stroke-width="1.25" fill="none"/>
<path d="M990.17,186.98h15.4 M997.88,179.28v15.4 M992.48,181.58l10.8,10.8 M992.48,192.38l10.8,-10.8" stroke="#0000ff" stroke-width="1.25" fill="none"/>
<path d="M1018.97,320.81h15.4 M1026.67,313.11v15.4 M1021.27,315.41l10.8,10.8 M1021.27,326.21l10.8,-10.8" stroke="#0000ff" stroke-width="1.25" fill="none"/>
<path d="M1047.76,394.07h15.4 M1055.46,386.37v15.4 M1050.06,388.67l10.8,10.8 M1050.06,399.47l10.8,-10.8" stroke="#0000ff" stroke-width="1.25" fill="none"/>
<path d="M1076.56,430.81h15.4 M1084.26,423.11v15.4 M1078.86,425.41l10.8,10.8 M1078.86,436.21l10.8,-10.8" stroke="#0000ff" stroke-width="1.25" fill="none"/>
<path d="M1105.35,450.22h15.4 M1113.05,442.52v15.4 M1107.65,444.82l10.8,10.8 M1107.65,455.62l10.8,-10.8" stroke="#0000ff" stroke-width="1.25" fill="none"/>
<path d="M1134.15,456.21h15.4 M1141.85,448.51v15.4 M1136.45,450.81l10.8,10.8 M1136.45,461.61l10.8,-10.8" stroke="#0000ff" stroke-width="1.25" fill="none"/>
<path d="M1162.94,451.75h15.4 M1170.64,444.05v15.4 M1165.24,446.35l10.8,10.8 M1165.24,457.15l10.8,-10.8" stroke="#0000ff" stroke-width="1.25" fill="none"/>
<path d="M1191.74,435.01h15.4 M1199.44,427.31v15.4 M1194.04,429.61l10.8,10.8 M1194.04,440.41l10.8,-10.8" stroke="#0000ff" stroke-width="1.25" fill="none"/>
<path d="M1220.53,401.63h15.4 M1228.23,393.93v15.4 M1222.83,396.23l10.8,10.8 M1222.83,407.03l10.8,-10.8" stroke="#0000ff" stroke-width="1.25" fill="none"/>
<path d="M1249.33,336.55h15.4 M1257.03,328.85v15.4 M1251.63,331.15l10.8,10.8 M1251.63,341.95l10.8,-10.8" stroke="#0000ff" stroke-width="1.25" fill="none"/>
<path d="M1278.12,176.75h15.4 M1285.82,169.05v15.4 M1280.42,171.35l10.8,10.8 M1280.42,182.15l10.8,-10.8" stroke="#0000ff" stroke-width="1.25" fill="none"/>
<path d="M1306.92,321.86h15.4 M1314.62,314.16v15.4 M1309.22,316.46l10.8,10.8 M1309.22,327.26l10.8,-10.8" stroke="#0000ff" stroke-width="1.25" fill="none"/>
<path d="M1335.71,386.93h15.4 M1343.41,379.23v15.4 M1338.01,381.53l10.8,10.8 M1338.01,392.33l10.8,-10.8" stroke="#0000ff" stroke-width="1.25" fill="none"/>
<path d="M1364.51,417.37h15.4 M1372.21,409.67v15.4 M1366.81,411.97l10.8,10.8 M1366.81,422.77l10.8,-10.8" stroke="#0000ff" stroke-width="1.25" fill="none"/>
<path d="M1393.30,431.02h15.4 M1401.00,423.32v15.4 M1395.60,425.62l10.8,10.8 M1395.60,436.42l10.8,-10.8" stroke="#0000ff" stroke-width="1.25" fill="none"/>
<path d="M1422.10,434.69h15.4 M1429.80,426.99v15.4 M1424.40,429.29l10.8,10.8 M1424.40,440.09l10.8,-10.8" stroke="#0000ff" stroke-width="1.25" fill="none"/>
<text transform="translate(853.90,511.40) scale(1,1.04)" text-anchor="middle" font-size="26" fill="#262626">140</text>
<text transform="translate(997.88,511.40) scale(1,1.04)" text-anchor="middle" font-size="26" fill="#262626">160</text>
<text transform="translate(1141.85,511.40) scale(1,1.04)" text-anchor="middle" font-size="26" fill="#262626">180</text>
<text transform="translate(1285.82,511.40) scale(1,1.04)" text-anchor="middle" font-size="26" fill="#262626">200</text>
<text transform="translate(1429.80,511.40) scale(1,1.04)" text-anchor="middle" font-size="26" fill="#262626">220</text>
<text transform="translate(843.60,459.06) scale(1,1.04)" text-anchor="end" font-size="26" fill="#262626">-100</text>
<text transform="translate(843.60,406.58) scale(1,1.04)" text-anchor="end" font-size="26" fill="#262626">-90</text>
<text transform="translate(843.60,354.10) scale(1,1.04)" text-anchor="end" font-size="26" fill="#262626">-80</text>
<text transform="translate(843.60,301.62) scale(1,1.04)" text-anchor="end" font-size="26" fill="#262626">-70</text>
<text transform="translate(843.60,249.14) scale(1,1.04)" text-anchor="end" font-size="26" fill="#262626">-60</text>
<text transform="translate(843.60,196.66) scale(1,1.04)" text-anchor="end" font-size="26" fill="#262626">-50</text>
<text transform="translate(843.60,144.18) scale(1,1.04)" text-anchor="end" font-size="26" fill="#262626">-40</text>
<text transform="translate(843.60,91.70) scale(1,1.04)" text-anchor="end" font-size="26" fill="#262626">-30</text>
<text transform="translate(1141.85,74.10) scale(1,1.04)" text-anchor="middle" font-size="28.2">τ= 0.4</text>
<text transform="translate(1141.85,560.10) scale(1,1.04)" text-anchor="middle" font-size="28.2" fill="#262626">Frequency(Hz)</text>
<text transform="translate(777.40,278.30) rotate(-90) scale(1,1.04)" text-anchor="middle" font-size="28.2" fill="#262626">Power/Frequency(dB/Hz)</text>
<clipPath id="clip3"><rect x="97.5" y="628.5" width="575.00" height="393.00"/></clipPath>
<rect x="97.5" y="628.5" width="575.00" height="393.00" fill="#fff" stroke="none"/>
<path d="M97.5,1021.5 H672.5 M97.5,628.5 H672.5 M97.5,628.5 V1021.5 M672.5,628.5 V1021.5" stroke="#262626" stroke-width="1.1" fill="none"/>
<path d="M97.50,1021.5 v-6.7 M97.50,628.5 v6.7 M241.25,1021.5 v-6.7 M241.25,628.5 v6.7 M385.00,1021.5 v-6.7 M385.00,628.5 v6.7 M528.75,1021.5 v-6.7 M528.75,628.5 v6.7 M672.50,1021.5 v-6.7 M672.50,628.5 v6.7 M97.5,995.30 h6.7 M672.5,995.30 h-6.7 M97.5,942.90 h6.7 M672.5,942.90 h-6.7 M97.5,890.50 h6.7 M672.5,890.50 h-6.7 M97.5,838.10 h6.7 M672.5,838.10 h-6.7 M97.5,785.70 h6.7 M672.5,785.70 h-6.7 M97.5,733.30 h6.7 M672.5,733.30 h-6.7 M97.5,680.90 h6.7 M672.5,680.90 h-6.7 M97.5,628.50 h6.7 M672.5,628.50 h-6.7" stroke="#262626" stroke-width="1.1" fill="none"/>
<path d="M97.50,964.38 102.53,965.58 107.56,966.55 111.88,967.18 116.19,967.58 120.50,967.75 124.09,967.67 127.69,967.39 132.00,966.78 136.31,965.89 141.34,964.56 146.38,962.96 151.41,961.11 157.16,958.75 161.47,956.77 165.78,954.46 169.38,952.18 172.25,950.08 174.41,948.31 177.28,945.65 179.44,943.41 181.59,940.93 183.75,938.18 185.91,935.17 188.78,930.73 193.81,921.94 198.84,911.97 203.88,900.89 208.91,888.62 213.22,876.94 216.13,868.14 218.93,858.47 221.41,848.47 223.75,837.37 225.90,825.24 227.88,812.09 229.71,797.71 231.62,779.95 233.34,760.77 234.96,739.35 236.43,716.11 237.66,693.41 238.81,668.57 242.00,586.62 244.34,586.58 247.90,675.90 249.26,703.81 250.74,729.01 252.50,753.96 254.48,776.91 256.63,797.40 259.04,816.06 261.70,832.85 264.65,848.09 268.02,862.57 272.12,877.56 277.19,893.79 280.06,902.16 282.94,910.04 288.69,924.48 291.56,931.08 294.44,937.28 298.03,944.43 300.91,949.66 303.78,954.48 307.37,959.98 310.97,964.99 314.56,969.58 318.88,974.61 323.19,979.22 328.22,984.20 333.97,989.48 339.00,993.73 344.03,997.61 349.06,1001.08 354.09,1004.11 358.41,1006.31 363.44,1008.44 368.47,1010.13 373.50,1011.42 379.25,1012.47 385.00,1013.12 390.75,1013.40 395.78,1013.28 400.81,1012.78 405.13,1011.98 409.44,1010.80 413.03,1009.49 416.62,1007.86 420.94,1005.51 425.25,1002.78 429.56,999.71 434.59,995.79 439.62,991.55 446.81,985.07 452.56,979.46 457.59,974.12 462.63,968.25 466.94,962.68 471.25,956.52 475.56,949.66 479.87,942.03 484.19,933.53 487.78,925.69 491.38,917.05 494.97,907.47 498.56,896.74 501.44,887.15 504.10,877.26 506.58,866.91 508.73,856.81 510.78,846.04 512.69,834.78 514.45,823.08 516.10,810.71 517.68,797.37 519.15,783.32 520.52,768.59 522.60,742.06 524.51,712.16 526.49,673.44 529.54,602.33 530.26,591.07 530.58,588.35 530.91,587.42 531.19,588.15 531.52,590.67 532.24,601.61 535.69,681.30 536.91,705.38 538.20,727.45 539.57,747.53 541.00,765.74 542.55,782.58 544.20,798.01 546.04,812.55 548.05,826.00 550.24,838.34 552.65,849.79 555.42,860.98 558.79,872.89 562.53,884.72 566.84,897.06 571.16,908.25 575.47,918.37 579.78,927.40 584.09,935.26 587.69,940.82 589.84,943.71 592.00,946.30 594.16,948.62 596.31,950.70 598.47,952.56 601.34,954.74 604.94,957.06 608.53,959.03 612.84,961.08 617.88,963.23 623.62,965.49 628.66,967.27 633.69,968.84 638.72,970.16 643.03,971.07 646.62,971.65 650.22,972.07 654.53,972.38 658.84,972.49 663.16,972.42 667.47,972.19 672.50,971.72" fill="none" stroke="#000" stroke-width="1.3" stroke-dasharray="1.25 2.62" clip-path="url(#clip3)"/>
<path d="M97.50,984.56 106.12,985.01 114.03,984.90 117.63,984.63 121.22,984.19 124.81,983.56 127.69,982.90 131.28,981.89 134.16,980.93 137.75,979.53 140.62,978.24 144.22,976.44 147.09,974.83 153.56,970.66 157.16,968.00 160.75,965.10 167.22,959.24 173.69,952.54 180.16,944.93 183.75,940.28 186.63,936.31 191.66,928.69 194.53,923.83 196.69,919.90 201.00,911.16 204.59,902.81 208.19,893.29 211.78,882.39 214.66,872.49 217.71,860.72 220.69,847.87 223.50,834.40 226.16,820.16 228.31,807.34 230.29,794.34 232.16,780.70 233.88,766.68 235.61,750.97 237.26,734.00 241.90,679.43 242.87,671.76 243.30,669.95 243.51,669.50 243.73,669.36 243.95,669.55 244.16,670.04 244.59,671.95 245.60,680.32 249.73,731.40 252.39,759.62 254.76,780.58 257.39,800.28 259.15,811.92 261.02,823.17 262.99,834.02 265.08,844.48 267.23,854.37 269.50,863.87 271.83,872.83 274.31,881.51 277.19,890.66 280.06,898.95 282.94,906.52 285.81,913.44 288.69,919.81 292.28,927.11 295.87,933.77 300.19,941.07 304.50,947.73 308.81,953.84 313.12,959.43 317.44,964.55 321.75,969.24 326.78,974.20 331.81,978.64 336.84,982.59 341.16,985.61 345.47,988.31 349.78,990.70 354.09,992.79 358.41,994.59 362.72,996.12 367.03,997.38 372.06,998.53 377.09,999.35 382.12,999.86 387.16,1000.07 392.19,999.98 397.22,999.57 401.53,998.96 406.56,997.93 410.87,996.76 415.19,995.31 419.50,993.57 423.81,991.53 428.12,989.19 432.44,986.54 436.75,983.56 441.06,980.24 444.66,977.21 448.97,973.23 452.56,969.65 456.88,965.00 460.47,960.83 464.78,955.45 468.37,950.64 471.97,945.52 475.56,940.02 480.59,931.46 484.91,923.07 489.22,913.43 493.53,902.21 497.12,891.39 500.72,878.96 504.42,864.21 507.98,847.95 510.93,832.72 513.66,816.89 516.21,800.27 518.54,783.10 520.84,763.96 522.96,743.88 528.61,681.51 529.65,673.86 530.12,672.05 530.37,671.58 530.58,671.46 530.80,671.62 531.05,672.14 531.52,674.05 532.60,682.30 537.45,737.45 539.10,754.04 540.86,769.82 542.55,783.41 544.35,796.52 546.25,809.18 548.30,821.60 550.78,835.24 553.37,848.06 556.03,859.88 558.76,870.69 561.81,881.32 564.69,890.14 567.56,897.97 571.16,906.60 575.47,915.56 579.78,923.33 584.81,931.33 591.28,940.55 597.03,947.96 603.50,955.45 607.09,959.22 609.97,962.03 615.72,967.07 621.47,971.34 627.22,974.93 633.69,978.25 640.16,980.94 647.34,983.31 655.25,985.31 663.16,986.78 672.50,987.96" fill="none" stroke="#00ff00" stroke-width="1.45" stroke-linejoin="round" clip-path="url(#clip3)"/>
<rect x="91.90" y="978.96" width="11.2" height="11.2" fill="none" stroke="#00ff00" stroke-width="1.35"/>
<rect x="120.65" y="977.65" width="11.2" height="11.2" fill="none" stroke="#00ff00" stroke-width="1.35"/>
<rect x="149.40" y="964.02" width="11.2" height="11.2" fill="none" stroke="#00ff00" stroke-width="1.35"/>
<rect x="178.15" y="934.68" width="11.2" height="11.2" fill="none" stroke="#00ff00" stroke-width="1.35"/>
<rect x="206.90" y="874.42" width="11.2" height="11.2" fill="none" stroke="#00ff00" stroke-width="1.35"/>
<rect x="235.65" y="680.80" width="11.2" height="11.2" fill="none" stroke="#00ff00" stroke-width="1.35"/>
<rect x="264.40" y="860.27" width="11.2" height="11.2" fill="none" stroke="#00ff00" stroke-width="1.35"/>
<rect x="293.15" y="933.11" width="11.2" height="11.2" fill="none" stroke="#00ff00" stroke-width="1.35"/>
<rect x="321.90" y="969.26" width="11.2" height="11.2" fill="none" stroke="#00ff00" stroke-width="1.35"/>
<rect x="350.65" y="988.13" width="11.2" height="11.2" fill="none" stroke="#00ff00" stroke-width="1.35"/>
<rect x="379.40" y="994.42" width="11.2" height="11.2" fill="none" stroke="#00ff00" stroke-width="1.35"/>
<rect x="408.15" y="990.22" width="11.2" height="11.2" fill="none" stroke="#00ff00" stroke-width="1.35"/>
<rect x="436.90" y="973.46" width="11.2" height="11.2" fill="none" stroke="#00ff00" stroke-width="1.35"/>
<rect x="465.65" y="940.97" width="11.2" height="11.2" fill="none" stroke="#00ff00" stroke-width="1.35"/>
<rect x="494.40" y="875.99" width="11.2" height="11.2" fill="none" stroke="#00ff00" stroke-width="1.35"/>
<rect x="523.15" y="674.62" width="11.2" height="11.2" fill="none" stroke="#00ff00" stroke-width="1.35"/>
<rect x="551.90" y="860.27" width="11.2" height="11.2" fill="none" stroke="#00ff00" stroke-width="1.35"/>
<rect x="580.65" y="927.87" width="11.2" height="11.2" fill="none" stroke="#00ff00" stroke-width="1.35"/>
<rect x="609.40" y="960.88" width="11.2" height="11.2" fill="none" stroke="#00ff00" stroke-width="1.35"/>
<rect x="638.15" y="976.60" width="11.2" height="11.2" fill="none" stroke="#00ff00" stroke-width="1.35"/>
<rect x="666.90" y="982.36" width="11.2" height="11.2" fill="none" stroke="#00ff00" stroke-width="1.35"/>
<path d="M97.50,984.03 106.12,983.93 114.03,983.35 121.22,982.28 124.81,981.51 128.41,980.56 132.00,979.43 135.59,978.12 139.19,976.62 142.78,974.94 146.38,973.06 149.97,971.00 156.44,966.80 162.19,962.48 167.94,957.46 170.81,954.64 173.69,951.59 178.72,945.61 183.75,938.71 188.06,931.97 193.09,923.17 198.12,913.38 202.44,904.19 206.75,894.22 211.06,883.35 214.66,873.45 217.57,864.50 220.15,855.45 222.53,845.91 224.75,835.58 226.48,826.48 228.13,816.68 229.71,806.17 231.22,794.96 233.02,780.02 234.93,762.49 241.18,699.12 241.93,693.19 242.62,689.11 243.23,686.79 243.55,686.16 243.84,685.97 244.09,686.10 244.38,686.58 244.92,688.42 245.49,691.64 246.10,696.26 247.36,708.39 251.06,748.66 253.18,769.28 255.95,792.40 258.90,812.87 262.20,831.86 264.00,840.83 265.90,849.49 267.95,858.01 270.18,866.53 272.55,874.92 275.03,883.03 277.91,891.73 281.50,901.68 284.38,908.99 287.97,917.41 291.56,925.14 295.16,932.22 298.75,938.71 302.34,944.65 305.94,950.10 310.25,956.06 314.56,961.45 318.88,966.35 323.91,971.50 328.94,976.14 333.97,980.32 339.00,984.06 342.59,986.47 346.91,989.09 351.22,991.40 355.53,993.42 359.84,995.14 364.16,996.59 368.47,997.76 372.78,998.68 377.09,999.36 382.12,999.86 387.16,1000.07 391.47,1000.01 396.50,999.66 400.81,999.10 405.13,998.28 409.44,997.20 413.75,995.82 417.34,994.45 421.66,992.54 425.97,990.32 430.28,987.81 434.59,985.00 438.91,981.89 442.50,979.06 446.81,975.37 450.41,972.02 454.00,968.42 457.59,964.52 461.19,960.31 464.78,955.76 468.37,950.82 471.25,946.57 474.12,942.02 477.00,937.16 482.03,927.79 487.06,917.13 491.38,906.76 495.69,895.02 500.00,881.59 503.74,868.27 507.26,853.97 510.21,840.42 512.94,826.23 515.45,811.40 517.79,795.71 519.87,779.67 521.81,762.43 527.35,704.46 527.96,699.75 528.50,696.64 529.04,694.69 529.29,694.23 529.54,694.08 529.79,694.24 530.04,694.68 530.58,696.53 531.77,703.96 537.41,754.70 539.39,770.56 541.47,785.69 543.38,798.24 545.35,810.14 547.44,821.62 549.67,832.88 552.40,845.47 555.20,857.14 558.08,867.94 561.09,878.10 563.97,886.81 567.56,896.57 571.16,905.27 574.75,913.06 579.06,921.42 583.38,928.89 588.41,936.72 594.16,944.70 599.91,951.76 605.66,957.99 611.41,963.45 617.16,968.17 622.91,972.20 628.66,975.63 635.13,978.84 641.59,981.45 648.78,983.74 655.97,985.49 663.88,986.91 672.50,987.96" fill="none" stroke="#ff0000" stroke-width="1.45" stroke-linejoin="round" clip-path="url(#clip3)"/>
<circle cx="97.50" cy="984.03" r="7.6" fill="none" stroke="#ff0000" stroke-width="1.35"/>
<circle cx="126.25" cy="981.15" r="7.6" fill="none" stroke="#ff0000" stroke-width="1.35"/>
<circle cx="155.00" cy="967.79" r="7.6" fill="none" stroke="#ff0000" stroke-width="1.35"/>
<circle cx="183.75" cy="938.71" r="7.6" fill="none" stroke="#ff0000" stroke-width="1.35"/>
<circle cx="212.50" cy="879.50" r="7.6" fill="none" stroke="#ff0000" stroke-width="1.35"/>
<circle cx="241.25" cy="698.51" r="7.6" fill="none" stroke="#ff0000" stroke-width="1.35"/>
<circle cx="270.00" cy="865.87" r="7.6" fill="none" stroke="#ff0000" stroke-width="1.35"/>
<circle cx="298.75" cy="938.71" r="7.6" fill="none" stroke="#ff0000" stroke-width="1.35"/>
<circle cx="327.50" cy="974.86" r="7.6" fill="none" stroke="#ff0000" stroke-width="1.35"/>
<circle cx="356.25" cy="993.73" r="7.6" fill="none" stroke="#ff0000" stroke-width="1.35"/>
<circle cx="385.00" cy="1000.02" r="7.6" fill="none" stroke="#ff0000" stroke-width="1.35"/>
<circle cx="413.75" cy="995.82" r="7.6" fill="none" stroke="#ff0000" stroke-width="1.35"/>
<circle cx="442.50" cy="979.06" r="7.6" fill="none" stroke="#ff0000" stroke-width="1.35"/>
<circle cx="471.25" cy="946.57" r="7.6" fill="none" stroke="#ff0000" stroke-width="1.35"/>
<circle cx="500.00" cy="881.59" r="7.6" fill="none" stroke="#ff0000" stroke-width="1.35"/>
<circle cx="528.75" cy="695.57" r="7.6" fill="none" stroke="#ff0000" stroke-width="1.35"/>
<circle cx="557.50" cy="865.87" r="7.6" fill="none" stroke="#ff0000" stroke-width="1.35"/>
<circle cx="586.25" cy="933.47" r="7.6" fill="none" stroke="#ff0000" stroke-width="1.35"/>
<circle cx="615.00" cy="966.48" r="7.6" fill="none" stroke="#ff0000" stroke-width="1.35"/>
<circle cx="643.75" cy="982.20" r="7.6" fill="none" stroke="#ff0000" stroke-width="1.35"/>
<circle cx="672.50" cy="987.96" r="7.6" fill="none" stroke="#ff0000" stroke-width="1.35"/>
<path d="M97.50,981.68 106.84,981.59 114.75,981.02 119.06,980.46 122.66,979.84 126.25,979.06 129.84,978.10 133.44,976.97 137.03,975.66 140.62,974.16 144.22,972.47 147.81,970.59 151.41,968.51 157.88,964.23 161.47,961.53 164.34,959.18 170.09,953.91 175.84,947.78 180.87,941.59 185.91,934.51 190.94,926.45 195.97,917.32 200.28,908.57 204.59,898.85 208.19,889.89 211.78,880.02 215.38,869.02 218.11,859.54 220.62,849.61 222.96,839.06 225.15,827.73 226.95,817.19 228.64,806.08 230.25,794.16 231.87,780.90 233.81,763.28 235.75,743.82 241.43,680.56 242.08,674.94 242.65,671.14 243.19,668.91 243.44,668.38 243.69,668.19 243.91,668.32 244.16,668.81 244.63,670.64 245.67,678.50 246.78,690.78 250.16,732.71 252.21,755.31 254.87,780.43 257.71,802.73 260.87,823.19 262.60,832.83 264.39,841.95 266.30,850.75 268.35,859.40 270.54,867.90 272.88,876.24 275.75,885.65 278.62,894.24 281.50,902.13 285.09,911.14 288.69,919.33 292.28,926.80 295.87,933.64 299.47,939.92 303.78,946.80 308.09,953.04 312.41,958.71 316.72,963.87 321.03,968.57 326.06,973.54 331.09,978.01 336.12,982.01 339.72,984.59 344.03,987.41 348.34,989.91 352.66,992.12 356.97,994.03 361.28,995.65 365.59,996.99 369.91,998.08 374.22,998.92 379.25,999.60 383.56,999.95 388.59,1000.08 393.62,999.92 397.94,999.52 402.25,998.88 406.56,997.97 410.87,996.78 414.47,995.56 418.78,993.82 423.09,991.78 427.41,989.45 431.72,986.83 436.03,983.93 440.34,980.75 444.66,977.29 448.97,973.52 452.56,970.10 456.16,966.38 459.75,962.33 462.63,958.81 466.22,954.04 469.09,949.89 471.97,945.42 474.84,940.59 477.72,935.41 480.59,929.88 483.47,923.99 486.34,917.71 491.38,905.73 496.41,892.29 500.72,879.32 504.60,866.06 507.98,852.63 510.57,840.69 512.97,827.89 515.20,814.20 517.29,799.40 519.30,782.86 521.24,764.51 526.77,703.43 527.38,698.36 527.92,695.01 528.46,692.95 528.71,692.47 528.97,692.31 529.18,692.41 529.43,692.82 529.90,694.35 530.98,700.95 536.15,748.32 537.99,762.97 539.93,776.77 542.01,790.10 544.38,803.98 546.97,818.02 549.70,831.84 552.65,845.66 555.52,858.05 558.25,868.70 561.09,878.60 563.97,887.54 567.56,897.42 570.44,904.44 574.03,912.28 578.34,920.57 582.66,927.90 588.41,936.63 594.16,944.48 599.91,951.54 605.66,957.84 611.41,963.39 617.16,968.19 622.91,972.26 628.66,975.69 635.13,978.88 641.59,981.46 648.78,983.73 655.97,985.47 663.88,986.89 672.50,987.96" fill="none" stroke="#0000ff" stroke-width="1.45" stroke-linejoin="round" clip-path="url(#clip3)"/>
<path d="M89.80,981.68h15.4 M97.50,973.98v15.4 M92.10,976.28l10.8,10.8 M92.10,987.08l10.8,-10.8" stroke="#0000ff" stroke-width="1.25" fill="none"/>
<path d="M118.55,979.06h15.4 M126.25,971.36v15.4 M120.85,973.66l10.8,10.8 M120.85,984.46l10.8,-10.8" stroke="#0000ff" stroke-width="1.25" fill="none"/>
<path d="M147.30,966.22h15.4 M155.00,958.52v15.4 M149.60,960.82l10.8,10.8 M149.60,971.62l10.8,-10.8" stroke="#0000ff" stroke-width="1.25" fill="none"/>
<path d="M176.05,937.66h15.4 M183.75,929.96v15.4 M178.35,932.26l10.8,10.8 M178.35,943.06l10.8,-10.8" stroke="#0000ff" stroke-width="1.25" fill="none"/>
<path d="M204.80,877.92h15.4 M212.50,870.22v15.4 M207.10,872.52l10.8,10.8 M207.10,883.32l10.8,-10.8" stroke="#0000ff" stroke-width="1.25" fill="none"/>
<path d="M233.55,682.31h15.4 M241.25,674.61v15.4 M235.85,676.91l10.8,10.8 M235.85,687.71l10.8,-10.8" stroke="#0000ff" stroke-width="1.25" fill="none"/>
<path d="M262.30,865.87h15.4 M270.00,858.17v15.4 M264.60,860.47l10.8,10.8 M264.60,871.27l10.8,-10.8" stroke="#0000ff" stroke-width="1.25" fill="none"/>
<path d="M291.05,938.71h15.4 M298.75,931.01v15.4 M293.35,933.31l10.8,10.8 M293.35,944.11l10.8,-10.8" stroke="#0000ff" stroke-width="1.25" fill="none"/>
<path d="M319.80,974.86h15.4 M327.50,967.16v15.4 M322.10,969.46l10.8,10.8 M322.10,980.26l10.8,-10.8" stroke="#0000ff" stroke-width="1.25" fill="none"/>
<path d="M348.55,993.73h15.4 M356.25,986.03v15.4 M350.85,988.33l10.8,10.8 M350.85,999.13l10.8,-10.8" stroke="#0000ff" stroke-width="1.25" fill="none"/>
<path d="M377.30,1000.02h15.4 M385.00,992.32v15.4 M379.60,994.62l10.8,10.8 M379.60,1005.42l10.8,-10.8" stroke="#0000ff" stroke-width="1.25" fill="none"/>
<path d="M406.05,995.82h15.4 M413.75,988.12v15.4 M408.35,990.42l10.8,10.8 M408.35,1001.22l10.8,-10.8" stroke="#0000ff" stroke-width="1.25" fill="none"/>
<path d="M434.80,979.06h15.4 M442.50,971.36v15.4 M437.10,973.66l10.8,10.8 M437.10,984.46l10.8,-10.8" stroke="#0000ff" stroke-width="1.25" fill="none"/>
<path d="M463.55,946.57h15.4 M471.25,938.87v15.4 M465.85,941.17l10.8,10.8 M465.85,951.97l10.8,-10.8" stroke="#0000ff" stroke-width="1.25" fill="none"/>
<path d="M492.30,881.59h15.4 M500.00,873.89v15.4 M494.60,876.19l10.8,10.8 M494.60,886.99l10.8,-10.8" stroke="#0000ff" stroke-width="1.25" fill="none"/>
<path d="M521.05,693.48h15.4 M528.75,685.78v15.4 M523.35,688.08l10.8,10.8 M523.35,698.88l10.8,-10.8" stroke="#0000ff" stroke-width="1.25" fill="none"/>
<path d="M549.80,865.87h15.4 M557.50,858.17v15.4 M552.10,860.47l10.8,10.8 M552.10,871.27l10.8,-10.8" stroke="#0000ff" stroke-width="1.25" fill="none"/>
<path d="M578.55,933.47h15.4 M586.25,925.77v15.4 M580.85,928.07l10.8,10.8 M580.85,938.87l10.8,-10.8" stroke="#0000ff" stroke-width="1.25" fill="none"/>
<path d="M607.30,966.48h15.4 M615.00,958.78v15.4 M609.60,961.08l10.8,10.8 M609.60,971.88l10.8,-10.8" stroke="#0000ff" stroke-width="1.25" fill="none"/>
<path d="M636.05,982.20h15.4 M643.75,974.50v15.4 M638.35,976.80l10.8,10.8 M638.35,987.60l10.8,-10.8" stroke="#0000ff" stroke-width="1.25" fill="none"/>
<path d="M664.80,987.96h15.4 M672.50,980.26v15.4 M667.10,982.56l10.8,10.8 M667.10,993.36l10.8,-10.8" stroke="#0000ff" stroke-width="1.25" fill="none"/>
<text transform="translate(97.50,1057.80) scale(1,1.04)" text-anchor="middle" font-size="26" fill="#262626">140</text>
<text transform="translate(241.25,1057.80) scale(1,1.04)" text-anchor="middle" font-size="26" fill="#262626">160</text>
<text transform="translate(385.00,1057.80) scale(1,1.04)" text-anchor="middle" font-size="26" fill="#262626">180</text>
<text transform="translate(528.75,1057.80) scale(1,1.04)" text-anchor="middle" font-size="26" fill="#262626">200</text>
<text transform="translate(672.50,1057.80) scale(1,1.04)" text-anchor="middle" font-size="26" fill="#262626">220</text>
<text transform="translate(87.20,1005.50) scale(1,1.04)" text-anchor="end" font-size="26" fill="#262626">-100</text>
<text transform="translate(87.20,953.10) scale(1,1.04)" text-anchor="end" font-size="26" fill="#262626">-90</text>
<text transform="translate(87.20,900.70) scale(1,1.04)" text-anchor="end" font-size="26" fill="#262626">-80</text>
<text transform="translate(87.20,848.30) scale(1,1.04)" text-anchor="end" font-size="26" fill="#262626">-70</text>
<text transform="translate(87.20,795.90) scale(1,1.04)" text-anchor="end" font-size="26" fill="#262626">-60</text>
<text transform="translate(87.20,743.50) scale(1,1.04)" text-anchor="end" font-size="26" fill="#262626">-50</text>
<text transform="translate(87.20,691.10) scale(1,1.04)" text-anchor="end" font-size="26" fill="#262626">-40</text>
<text transform="translate(87.20,638.70) scale(1,1.04)" text-anchor="end" font-size="26" fill="#262626">-30</text>
<text transform="translate(385.00,618.90) scale(1,1.04)" text-anchor="middle" font-size="28.2">τ= 0.6</text>
<text transform="translate(385.00,1106.50) scale(1,1.04)" text-anchor="middle" font-size="28.2" fill="#262626">Frequency(Hz)</text>
<text transform="translate(21.00,825.00) rotate(-90) scale(1,1.04)" text-anchor="middle" font-size="28.2" fill="#262626">Power/Frequency(dB/Hz)</text>
<clipPath id="clip4"><rect x="853.9" y="628.5" width="575.90" height="393.00"/></clipPath>
<rect x="853.9" y="628.5" width="575.90" height="393.00" fill="#fff" stroke="none"/>
<path d="M853.9,1021.5 H1429.8 M853.9,628.5 H1429.8 M853.9,628.5 V1021.5 M1429.8,628.5 V1021.5" stroke="#262626" stroke-width="1.1" fill="none"/>
<path d="M853.90,1021.5 v-6.7 M853.90,628.5 v6.7 M997.88,1021.5 v-6.7 M997.88,628.5 v6.7 M1141.85,1021.5 v-6.7 M1141.85,628.5 v6.7 M1285.82,1021.5 v-6.7 M1285.82,628.5 v6.7 M1429.80,1021.5 v-6.7 M1429.80,628.5 v6.7 M853.9,995.30 h6.7 M1429.8,995.30 h-6.7 M853.9,942.90 h6.7 M1429.8,942.90 h-6.7 M853.9,890.50 h6.7 M1429.8,890.50 h-6.7 M853.9,838.10 h6.7 M1429.8,838.10 h-6.7 M853.9,785.70 h6.7 M1429.8,785.70 h-6.7 M853.9,733.30 h6.7 M1429.8,733.30 h-6.7 M853.9,680.90 h6.7 M1429.8,680.90 h-6.7 M853.9,628.50 h6.7 M1429.8,628.50 h-6.7" stroke="#262626" stroke-width="1.1" fill="none"/>
<path d="M853.90,971.72 858.94,972.29 863.26,972.61 867.58,972.74 871.90,972.68 876.22,972.38 879.82,971.94 883.41,971.32 887.01,970.49 890.61,969.46 894.93,967.97 898.53,966.51 902.85,964.51 907.17,962.23 910.77,960.11 915.09,957.31 918.69,954.72 922.29,951.87 925.17,949.38 928.77,945.98 931.65,943.00 934.53,939.76 937.41,936.25 942.44,929.33 945.32,924.90 948.20,920.10 953.24,910.72 958.28,899.93 962.60,889.36 966.20,879.43 969.80,868.23 973.69,854.57 977.65,839.13 980.35,827.41 982.61,816.07 984.63,804.19 986.43,791.57 988.41,774.68 990.21,755.60 991.83,734.19 993.27,710.45 994.56,683.72 995.68,654.86 996.65,623.37 997.55,586.76 997.59,586.58 1002.19,586.58 1003.27,628.50 1004.32,661.24 1005.54,691.72 1006.91,718.84 1008.49,743.80 1010.22,765.27 1012.06,783.00 1014.11,798.05 1018.57,823.92 1022.03,845.21 1023.18,851.25 1024.19,855.40 1024.76,857.14 1025.37,858.52 1028.11,863.03 1030.27,867.34 1032.43,872.45 1034.59,878.26 1038.91,891.56 1048.27,923.70 1051.87,935.35 1055.46,945.52 1056.90,949.02 1059.06,953.64 1061.94,958.76 1064.82,962.86 1066.26,964.58 1068.42,966.80 1072.02,969.73 1075.62,971.97 1083.54,976.04 1087.86,978.62 1092.90,982.12 1104.42,990.71 1108.02,993.16 1110.90,994.92 1113.77,996.44 1117.37,997.96 1120.97,999.11 1125.29,1000.09 1129.61,1000.70 1134.65,1001.09 1144.73,1001.39 1151.93,1001.41 1156.97,1001.19 1161.29,1000.76 1165.61,1000.03 1169.21,999.14 1172.80,997.96 1177.12,996.15 1180.72,994.33 1185.04,991.82 1189.36,988.97 1193.68,985.80 1198.00,982.36 1202.32,978.65 1208.08,973.37 1214.56,967.07 1221.76,959.72 1228.95,952.08 1231.83,948.87 1234.71,945.40 1237.59,941.48 1239.75,938.14 1241.91,934.35 1244.07,930.05 1246.23,925.13 1248.39,919.51 1250.55,913.08 1252.71,905.75 1254.87,897.39 1256.31,891.19 1258.65,879.94 1261.17,866.40 1263.98,850.02 1267.22,829.95 1271.00,805.42 1274.13,784.05 1276.50,766.58 1278.37,751.20 1279.78,737.51 1281.00,722.77 1282.08,706.48 1283.05,688.13 1283.95,666.86 1284.75,643.56 1286.15,586.70 1286.18,586.58 1290.54,586.58 1291.98,646.11 1293.64,697.30 1295.54,741.08 1296.52,758.31 1297.49,772.30 1298.93,788.08 1300.55,800.68 1302.06,809.26 1305.12,823.34 1306.45,830.32 1307.67,838.23 1310.73,861.03 1311.63,866.24 1312.46,869.54 1313.18,871.06 1314.76,872.91 1315.66,874.90 1316.78,878.45 1319.66,889.44 1321.10,894.08 1322.54,897.94 1324.70,902.60 1326.14,905.19 1331.90,914.56 1341.26,931.76 1345.57,939.11 1348.45,943.47 1351.33,947.44 1354.93,951.95 1358.53,956.03 1362.85,960.48 1367.17,964.59 1373.65,970.36 1380.13,975.86 1385.17,979.89 1389.49,983.09 1393.81,986.01 1397.41,988.17 1401.00,990.06 1404.60,991.65 1408.20,992.95 1411.80,994.00 1416.12,994.96 1420.44,995.63 1424.76,996.07 1429.80,996.35" fill="none" stroke="#000" stroke-width="1.3" stroke-dasharray="1.25 2.62" clip-path="url(#clip4)"/>
<path d="M853.90,980.89 860.38,981.14 866.14,981.09 871.90,980.72 876.94,980.04 881.98,978.98 886.29,977.73 891.33,975.88 897.09,973.33 903.57,970.01 911.49,965.43 917.97,961.32 923.73,957.21 928.77,953.06 933.09,948.98 937.41,944.31 941.72,938.92 945.32,933.84 948.92,928.20 952.52,921.99 955.40,916.60 959.00,909.30 961.88,903.00 964.76,896.26 967.64,889.05 970.52,881.34 973.72,872.14 976.67,863.03 979.59,853.42 985.03,833.92 993.34,801.72 996.04,792.41 997.77,787.54 999.31,784.21 1000.03,783.10 1000.75,782.29 1001.44,781.84 1002.16,781.70 1002.99,781.94 1003.85,782.64 1004.71,783.76 1005.61,785.34 1007.52,789.87 1009.68,796.50 1011.98,804.76 1014.68,815.45 1023.90,855.36 1027.79,870.91 1030.27,879.72 1033.15,888.92 1035.31,895.16 1038.19,902.71 1041.07,909.49 1044.67,917.04 1048.27,923.77 1052.59,931.04 1058.34,939.92 1064.10,948.18 1069.86,955.85 1075.62,962.91 1081.38,969.31 1087.14,975.00 1092.90,979.96 1098.66,984.24 1104.42,987.87 1110.18,990.88 1115.93,993.28 1122.41,995.32 1126.01,996.17 1129.61,996.84 1136.81,997.68 1140.41,997.88 1144.73,997.94 1149.05,997.80 1152.65,997.53 1159.85,996.52 1163.45,995.77 1167.05,994.84 1173.52,992.70 1180.00,989.89 1184.32,987.63 1188.64,985.04 1192.96,982.09 1196.56,979.35 1200.16,976.33 1204.48,972.34 1208.80,967.96 1213.12,963.18 1217.44,958.03 1221.76,952.48 1226.08,946.55 1230.39,940.19 1233.99,934.51 1237.59,928.36 1240.47,923.04 1243.35,917.28 1247.67,907.66 1251.99,896.65 1255.59,886.16 1259.33,873.79 1263.69,857.47 1268.22,838.50 1272.36,819.60 1278.77,788.46 1280.86,779.28 1282.19,774.43 1283.41,771.05 1284.57,769.05 1285.14,768.55 1285.68,768.40 1286.18,768.53 1286.69,768.94 1287.70,770.53 1288.78,773.29 1289.93,777.24 1292.34,787.77 1299.00,820.54 1302.45,835.78 1304.76,844.89 1307.13,853.47 1309.65,861.79 1312.35,869.96 1315.56,878.88 1318.94,887.59 1322.54,896.17 1326.86,905.64 1330.46,912.92 1334.78,920.99 1338.38,927.17 1342.70,933.97 1347.01,940.10 1351.33,945.61 1355.65,950.58 1360.69,955.74 1365.73,960.32 1370.77,964.36 1376.53,968.42 1382.29,971.92 1387.33,974.53 1393.09,977.01 1398.13,978.76 1403.88,980.27 1409.64,981.30 1416.12,981.99 1422.60,982.26 1429.80,982.20" fill="none" stroke="#0000ff" stroke-width="1.45" stroke-linejoin="round" clip-path="url(#clip4)"/>
<path d="M846.20,980.89h15.4 M853.90,973.19v15.4 M848.50,975.49l10.8,10.8 M848.50,986.29l10.8,-10.8" stroke="#0000ff" stroke-width="1.25" fill="none"/>
<path d="M874.99,978.79h15.4 M882.69,971.09v15.4 M877.29,973.39l10.8,10.8 M877.29,984.19l10.8,-10.8" stroke="#0000ff" stroke-width="1.25" fill="none"/>
<path d="M903.79,965.43h15.4 M911.49,957.73v15.4 M906.09,960.03l10.8,10.8 M906.09,970.83l10.8,-10.8" stroke="#0000ff" stroke-width="1.25" fill="none"/>
<path d="M932.58,940.80h15.4 M940.28,933.10v15.4 M934.88,935.40l10.8,10.8 M934.88,946.20l10.8,-10.8" stroke="#0000ff" stroke-width="1.25" fill="none"/>
<path d="M961.38,885.26h15.4 M969.08,877.56v15.4 M963.68,879.86l10.8,10.8 M963.68,890.66l10.8,-10.8" stroke="#0000ff" stroke-width="1.25" fill="none"/>
<path d="M990.17,787.27h15.4 M997.88,779.57v15.4 M992.48,781.87l10.8,10.8 M992.48,792.67l10.8,-10.8" stroke="#0000ff" stroke-width="1.25" fill="none"/>
<path d="M1018.97,866.66h15.4 M1026.67,858.96v15.4 M1021.27,861.26l10.8,10.8 M1021.27,872.06l10.8,-10.8" stroke="#0000ff" stroke-width="1.25" fill="none"/>
<path d="M1047.76,935.56h15.4 M1055.46,927.86v15.4 M1050.06,930.16l10.8,10.8 M1050.06,940.96l10.8,-10.8" stroke="#0000ff" stroke-width="1.25" fill="none"/>
<path d="M1076.56,972.24h15.4 M1084.26,964.54v15.4 M1078.86,966.84l10.8,10.8 M1078.86,977.64l10.8,-10.8" stroke="#0000ff" stroke-width="1.25" fill="none"/>
<path d="M1105.35,992.16h15.4 M1113.05,984.46v15.4 M1107.65,986.76l10.8,10.8 M1107.65,997.56l10.8,-10.8" stroke="#0000ff" stroke-width="1.25" fill="none"/>
<path d="M1134.15,997.92h15.4 M1141.85,990.22v15.4 M1136.45,992.52l10.8,10.8 M1136.45,1003.32l10.8,-10.8" stroke="#0000ff" stroke-width="1.25" fill="none"/>
<path d="M1162.94,993.73h15.4 M1170.64,986.03v15.4 M1165.24,988.33l10.8,10.8 M1165.24,999.13l10.8,-10.8" stroke="#0000ff" stroke-width="1.25" fill="none"/>
<path d="M1191.74,976.96h15.4 M1199.44,969.26v15.4 M1194.04,971.56l10.8,10.8 M1194.04,982.36l10.8,-10.8" stroke="#0000ff" stroke-width="1.25" fill="none"/>
<path d="M1220.53,943.42h15.4 M1228.23,935.72v15.4 M1222.83,938.02l10.8,10.8 M1222.83,948.82l10.8,-10.8" stroke="#0000ff" stroke-width="1.25" fill="none"/>
<path d="M1249.33,881.59h15.4 M1257.03,873.89v15.4 M1251.63,876.19l10.8,10.8 M1251.63,886.99l10.8,-10.8" stroke="#0000ff" stroke-width="1.25" fill="none"/>
<path d="M1278.12,768.67h15.4 M1285.82,760.97v15.4 M1280.42,763.27l10.8,10.8 M1280.42,774.07l10.8,-10.8" stroke="#0000ff" stroke-width="1.25" fill="none"/>
<path d="M1306.92,876.35h15.4 M1314.62,868.65v15.4 M1309.22,870.95l10.8,10.8 M1309.22,881.75l10.8,-10.8" stroke="#0000ff" stroke-width="1.25" fill="none"/>
<path d="M1335.71,935.04h15.4 M1343.41,927.34v15.4 M1338.01,929.64l10.8,10.8 M1338.01,940.44l10.8,-10.8" stroke="#0000ff" stroke-width="1.25" fill="none"/>
<path d="M1364.51,965.43h15.4 M1372.21,957.73v15.4 M1366.81,960.03l10.8,10.8 M1366.81,970.83l10.8,-10.8" stroke="#0000ff" stroke-width="1.25" fill="none"/>
<path d="M1393.30,979.58h15.4 M1401.00,971.88v15.4 M1395.60,974.18l10.8,10.8 M1395.60,984.98l10.8,-10.8" stroke="#0000ff" stroke-width="1.25" fill="none"/>
<path d="M1422.10,982.20h15.4 M1429.80,974.50v15.4 M1424.40,976.80l10.8,10.8 M1424.40,987.60l10.8,-10.8" stroke="#0000ff" stroke-width="1.25" fill="none"/>
<path d="M853.90,980.89 860.38,981.08 866.86,981.00 872.62,980.62 877.66,980.00 882.69,979.06 887.73,977.76 892.77,976.11 897.81,974.11 903.57,971.42 909.33,968.29 915.09,964.73 920.13,961.21 925.17,957.24 929.49,953.43 933.81,949.17 938.13,944.43 941.72,940.05 945.32,935.27 948.92,930.08 951.80,925.63 955.40,919.68 959.00,913.29 962.60,906.44 965.48,900.61 969.08,892.86 972.03,886.10 975.16,878.48 978.22,870.58 983.62,855.49 992.98,827.47 996.33,818.52 998.34,814.11 1000.18,811.06 1001.04,810.03 1001.91,809.29 1002.77,808.85 1003.60,808.72 1004.46,808.90 1005.36,809.42 1006.26,810.27 1007.20,811.49 1009.14,815.01 1011.23,820.01 1012.88,824.68 1014.76,830.50 1024.76,864.43 1027.53,873.30 1030.27,881.52 1033.15,889.61 1036.75,898.96 1039.63,905.86 1043.23,913.84 1046.83,921.15 1050.43,927.87 1054.03,934.06 1058.34,940.87 1062.66,947.08 1066.98,952.76 1071.30,957.96 1076.34,963.50 1082.10,969.21 1087.86,974.35 1094.34,979.50 1100.10,983.52 1105.86,987.00 1111.62,989.94 1117.37,992.31 1123.85,994.34 1130.33,995.75 1136.81,996.59 1144.01,996.90 1150.49,996.66 1156.97,995.89 1163.45,994.58 1169.93,992.67 1176.40,990.14 1180.00,988.47 1184.32,986.23 1188.64,983.74 1192.96,981.00 1197.28,978.02 1201.60,974.79 1205.20,971.88 1208.80,968.70 1211.68,965.93 1214.56,962.92 1217.44,959.62 1220.32,956.02 1223.20,952.07 1225.36,948.86 1228.23,944.21 1230.39,940.43 1236.15,929.32 1243.35,913.95 1259.19,877.93 1262.07,871.06 1264.44,864.96 1268.22,853.92 1271.68,841.88 1274.59,830.02 1279.92,806.30 1281.90,798.64 1283.02,795.21 1284.06,792.82 1285.07,791.39 1285.57,791.03 1286.08,790.91 1286.54,791.02 1287.01,791.34 1287.98,792.62 1288.99,794.77 1290.11,797.96 1292.41,806.37 1298.64,832.14 1301.77,843.71 1303.93,850.87 1306.16,857.62 1308.57,864.30 1311.24,871.12 1316.06,882.58 1321.82,895.58 1326.86,906.42 1331.90,916.68 1336.22,924.92 1340.54,932.51 1344.13,938.23 1347.73,943.37 1351.33,947.96 1355.65,952.85 1359.97,957.14 1364.29,960.91 1369.33,964.79 1374.37,968.21 1379.41,971.25 1385.17,974.27 1390.21,976.52 1395.25,978.40 1400.29,979.92 1405.32,981.07 1411.08,981.97 1416.84,982.51 1423.32,982.76 1429.80,982.72" fill="none" stroke="#ff0000" stroke-width="1.45" stroke-linejoin="round" clip-path="url(#clip4)"/>
<circle cx="853.90" cy="980.89" r="7.6" fill="none" stroke="#ff0000" stroke-width="1.35"/>
<circle cx="882.69" cy="979.06" r="7.6" fill="none" stroke="#ff0000" stroke-width="1.35"/>
<circle cx="911.49" cy="967.00" r="7.6" fill="none" stroke="#ff0000" stroke-width="1.35"/>
<circle cx="940.28" cy="941.85" r="7.6" fill="none" stroke="#ff0000" stroke-width="1.35"/>
<circle cx="969.08" cy="892.86" r="7.6" fill="none" stroke="#ff0000" stroke-width="1.35"/>
<circle cx="997.88" cy="815.04" r="7.6" fill="none" stroke="#ff0000" stroke-width="1.35"/>
<circle cx="1026.67" cy="870.59" r="7.6" fill="none" stroke="#ff0000" stroke-width="1.35"/>
<circle cx="1055.46" cy="936.40" r="7.6" fill="none" stroke="#ff0000" stroke-width="1.35"/>
<circle cx="1084.26" cy="971.20" r="7.6" fill="none" stroke="#ff0000" stroke-width="1.35"/>
<circle cx="1113.05" cy="990.58" r="7.6" fill="none" stroke="#ff0000" stroke-width="1.35"/>
<circle cx="1141.85" cy="996.87" r="7.6" fill="none" stroke="#ff0000" stroke-width="1.35"/>
<circle cx="1170.64" cy="992.42" r="7.6" fill="none" stroke="#ff0000" stroke-width="1.35"/>
<circle cx="1199.44" cy="976.44" r="7.6" fill="none" stroke="#ff0000" stroke-width="1.35"/>
<circle cx="1228.23" cy="944.21" r="7.6" fill="none" stroke="#ff0000" stroke-width="1.35"/>
<circle cx="1257.03" cy="882.90" r="7.6" fill="none" stroke="#ff0000" stroke-width="1.35"/>
<circle cx="1285.82" cy="790.94" r="7.6" fill="none" stroke="#ff0000" stroke-width="1.35"/>
<circle cx="1314.62" cy="879.23" r="7.6" fill="none" stroke="#ff0000" stroke-width="1.35"/>
<circle cx="1343.41" cy="937.14" r="7.6" fill="none" stroke="#ff0000" stroke-width="1.35"/>
<circle cx="1372.21" cy="966.79" r="7.6" fill="none" stroke="#ff0000" stroke-width="1.35"/>
<circle cx="1401.00" cy="980.10" r="7.6" fill="none" stroke="#ff0000" stroke-width="1.35"/>
<circle cx="1429.80" cy="982.72" r="7.6" fill="none" stroke="#ff0000" stroke-width="1.35"/>
<path d="M853.90,989.01 861.82,989.17 868.30,988.97 874.78,988.36 880.54,987.40 886.29,985.96 892.05,984.03 897.81,981.61 902.85,979.07 908.61,975.70 914.37,971.80 920.13,967.34 925.17,962.91 930.21,957.93 935.25,952.34 940.28,946.04 944.60,940.03 948.92,933.36 952.52,927.27 956.12,920.62 959.72,913.36 963.32,905.41 966.20,898.49 969.08,891.02 972.14,882.41 974.84,874.13 977.43,865.47 979.95,856.31 982.36,846.78 986.46,828.74 993.74,793.81 996.26,783.19 997.70,778.36 998.99,775.14 999.64,774.00 1000.25,773.22 1000.90,772.73 1001.51,772.58 1002.19,772.78 1002.88,773.36 1003.56,774.30 1004.25,775.59 1005.69,779.34 1007.31,784.90 1010.54,798.66 1020.48,845.91 1025.27,867.03 1027.75,876.83 1030.27,885.86 1033.15,895.15 1036.03,903.47 1038.91,910.95 1042.51,919.28 1046.11,926.68 1050.43,934.60 1055.46,942.90 1060.50,950.56 1066.26,958.64 1071.30,965.12 1077.06,971.81 1082.82,977.71 1088.58,982.76 1091.46,984.99 1095.06,987.52 1098.66,989.79 1102.26,991.84 1109.46,995.35 1113.77,997.16 1118.09,998.78 1122.41,1000.20 1126.01,1001.21 1129.61,1002.08 1133.21,1002.77 1139.69,1003.56 1142.57,1003.71 1146.17,1003.71 1152.65,1003.23 1159.13,1002.12 1162.73,1001.25 1166.33,1000.20 1169.93,998.97 1173.52,997.57 1177.12,995.98 1180.72,994.21 1185.76,991.41 1190.08,988.68 1194.40,985.64 1198.72,982.27 1203.04,978.55 1207.36,974.47 1211.68,970.02 1215.28,966.01 1219.60,960.84 1223.20,956.21 1227.52,950.23 1231.11,944.87 1234.71,939.06 1237.59,934.02 1240.47,928.55 1243.35,922.57 1247.67,912.49 1251.27,902.89 1254.87,891.99 1258.47,879.58 1262.61,863.39 1267.04,844.13 1271.43,823.43 1278.23,789.61 1280.53,779.20 1282.01,773.66 1283.34,769.85 1283.99,768.51 1284.60,767.59 1285.21,767.03 1285.82,766.84 1286.40,767.00 1286.98,767.48 1287.55,768.29 1288.16,769.47 1289.42,772.88 1290.83,777.92 1293.49,789.77 1301.45,828.77 1305.77,848.38 1308.21,858.67 1310.55,867.78 1312.78,875.70 1314.94,882.57 1316.78,887.76 1318.94,893.22 1323.26,902.67 1336.94,929.46 1341.26,937.23 1344.85,943.05 1348.45,948.19 1352.77,953.56 1357.09,958.21 1361.41,962.27 1367.17,966.99 1373.65,971.68 1380.85,976.39 1387.33,980.13 1392.37,982.62 1397.41,984.68 1401.72,986.07 1406.76,987.23 1411.80,987.94 1417.56,988.31 1423.32,988.30 1429.80,987.96" fill="none" stroke="#00ff00" stroke-width="1.45" stroke-linejoin="round" clip-path="url(#clip4)"/>
<rect x="848.30" y="983.41" width="11.2" height="11.2" fill="none" stroke="#00ff00" stroke-width="1.35"/>
<rect x="877.09" y="981.32" width="11.2" height="11.2" fill="none" stroke="#00ff00" stroke-width="1.35"/>
<rect x="905.89" y="968.22" width="11.2" height="11.2" fill="none" stroke="#00ff00" stroke-width="1.35"/>
<rect x="934.68" y="940.44" width="11.2" height="11.2" fill="none" stroke="#00ff00" stroke-width="1.35"/>
<rect x="963.48" y="885.42" width="11.2" height="11.2" fill="none" stroke="#00ff00" stroke-width="1.35"/>
<rect x="992.27" y="772.24" width="11.2" height="11.2" fill="none" stroke="#00ff00" stroke-width="1.35"/>
<rect x="1021.07" y="867.08" width="11.2" height="11.2" fill="none" stroke="#00ff00" stroke-width="1.35"/>
<rect x="1049.87" y="937.30" width="11.2" height="11.2" fill="none" stroke="#00ff00" stroke-width="1.35"/>
<rect x="1078.66" y="973.46" width="11.2" height="11.2" fill="none" stroke="#00ff00" stroke-width="1.35"/>
<rect x="1107.45" y="991.27" width="11.2" height="11.2" fill="none" stroke="#00ff00" stroke-width="1.35"/>
<rect x="1136.25" y="998.08" width="11.2" height="11.2" fill="none" stroke="#00ff00" stroke-width="1.35"/>
<rect x="1165.05" y="993.11" width="11.2" height="11.2" fill="none" stroke="#00ff00" stroke-width="1.35"/>
<rect x="1193.84" y="976.08" width="11.2" height="11.2" fill="none" stroke="#00ff00" stroke-width="1.35"/>
<rect x="1222.63" y="943.59" width="11.2" height="11.2" fill="none" stroke="#00ff00" stroke-width="1.35"/>
<rect x="1251.43" y="879.14" width="11.2" height="11.2" fill="none" stroke="#00ff00" stroke-width="1.35"/>
<rect x="1280.22" y="761.24" width="11.2" height="11.2" fill="none" stroke="#00ff00" stroke-width="1.35"/>
<rect x="1309.02" y="875.99" width="11.2" height="11.2" fill="none" stroke="#00ff00" stroke-width="1.35"/>
<rect x="1337.82" y="935.20" width="11.2" height="11.2" fill="none" stroke="#00ff00" stroke-width="1.35"/>
<rect x="1366.61" y="965.07" width="11.2" height="11.2" fill="none" stroke="#00ff00" stroke-width="1.35"/>
<rect x="1395.40" y="980.27" width="11.2" height="11.2" fill="none" stroke="#00ff00" stroke-width="1.35"/>
<rect x="1424.20" y="982.36" width="11.2" height="11.2" fill="none" stroke="#00ff00" stroke-width="1.35"/>
<text transform="translate(853.90,1057.80) scale(1,1.04)" text-anchor="middle" font-size="26" fill="#262626">140</text>
<text transform="translate(997.88,1057.80) scale(1,1.04)" text-anchor="middle" font-size="26" fill="#262626">160</text>
<text transform="translate(1141.85,1057.80) scale(1,1.04)" text-anchor="middle" font-size="26" fill="#262626">180</text>
<text transform="translate(1285.82,1057.80) scale(1,1.04)" text-anchor="middle" font-size="26" fill="#262626">200</text>
<text transform="translate(1429.80,1057.80) scale(1,1.04)" text-anchor="middle" font-size="26" fill="#262626">220</text>
<text transform="translate(843.60,1005.50) scale(1,1.04)" text-anchor="end" font-size="26" fill="#262626">-100</text>
<text transform="translate(843.60,953.10) scale(1,1.04)" text-anchor="end" font-size="26" fill="#262626">-90</text>
<text transform="translate(843.60,900.70) scale(1,1.04)" text-anchor="end" font-size="26" fill="#262626">-80</text>
<text transform="translate(843.60,848.30) scale(1,1.04)" text-anchor="end" font-size="26" fill="#262626">-70</text>
<text transform="translate(843.60,795.90) scale(1,1.04)" text-anchor="end" font-size="26" fill="#262626">-60</text>
<text transform="translate(843.60,743.50) scale(1,1.04)" text-anchor="end" font-size="26" fill="#262626">-50</text>
<text transform="translate(843.60,691.10) scale(1,1.04)" text-anchor="end" font-size="26" fill="#262626">-40</text>
<text transform="translate(843.60,638.70) scale(1,1.04)" text-anchor="end" font-size="26" fill="#262626">-30</text>
<text transform="translate(1141.85,618.90) scale(1,1.04)" text-anchor="middle" font-size="28.2">τ= 0.8</text>
<text transform="translate(1141.85,1106.50) scale(1,1.04)" text-anchor="middle" font-size="28.2" fill="#262626">Frequency(Hz)</text>
<text transform="translate(777.40,825.00) rotate(-90) scale(1,1.04)" text-anchor="middle" font-size="28.2" fill="#262626">Power/Frequency(dB/Hz)</text>
<rect x="383.5" y="0.5" width="768" height="37" fill="#fff" stroke="#262626" stroke-width="1.1"/>
<path d="M390.4,19.4H468.6" stroke="#000" stroke-width="1.3" stroke-dasharray="1.25 2.62" fill="none"/>
<text transform="translate(473.9,28.6) scale(1,1.04)" font-size="23.4">True spectrum</text>
<path d="M638.7,19.4H715.6" stroke="#00ff00" stroke-width="1.45" fill="none"/>
<rect x="671.70" y="13.80" width="11.2" height="11.2" fill="none" stroke="#00ff00" stroke-width="1.35"/>
<text transform="translate(721.6,28.6) scale(1,1.04)" font-size="23.4">Proposed</text>
<path d="M836.4,19.4H913.8" stroke="#ff0000" stroke-width="1.45" fill="none"/>
<circle cx="875.20" cy="19.40" r="7.6" fill="none" stroke="#ff0000" stroke-width="1.35"/>
<text transform="translate(919.7,28.6) scale(1,1.04)" font-size="23.4">Subgrad</text>
<path d="M1022.8,19.4H1099.5" stroke="#0000ff" stroke-width="1.45" fill="none"/>
<path d="M1053.50,19.40h15.4 M1061.20,11.70v15.4 M1055.80,14.00l10.8,10.8 M1055.80,24.80l10.8,-10.8" stroke="#0000ff" stroke-width="1.25" fill="none"/>
<text transform="translate(1104.8,28.6) scale(1,1.04)" font-size="23.4">MM</text>
</svg>
</body></html>
